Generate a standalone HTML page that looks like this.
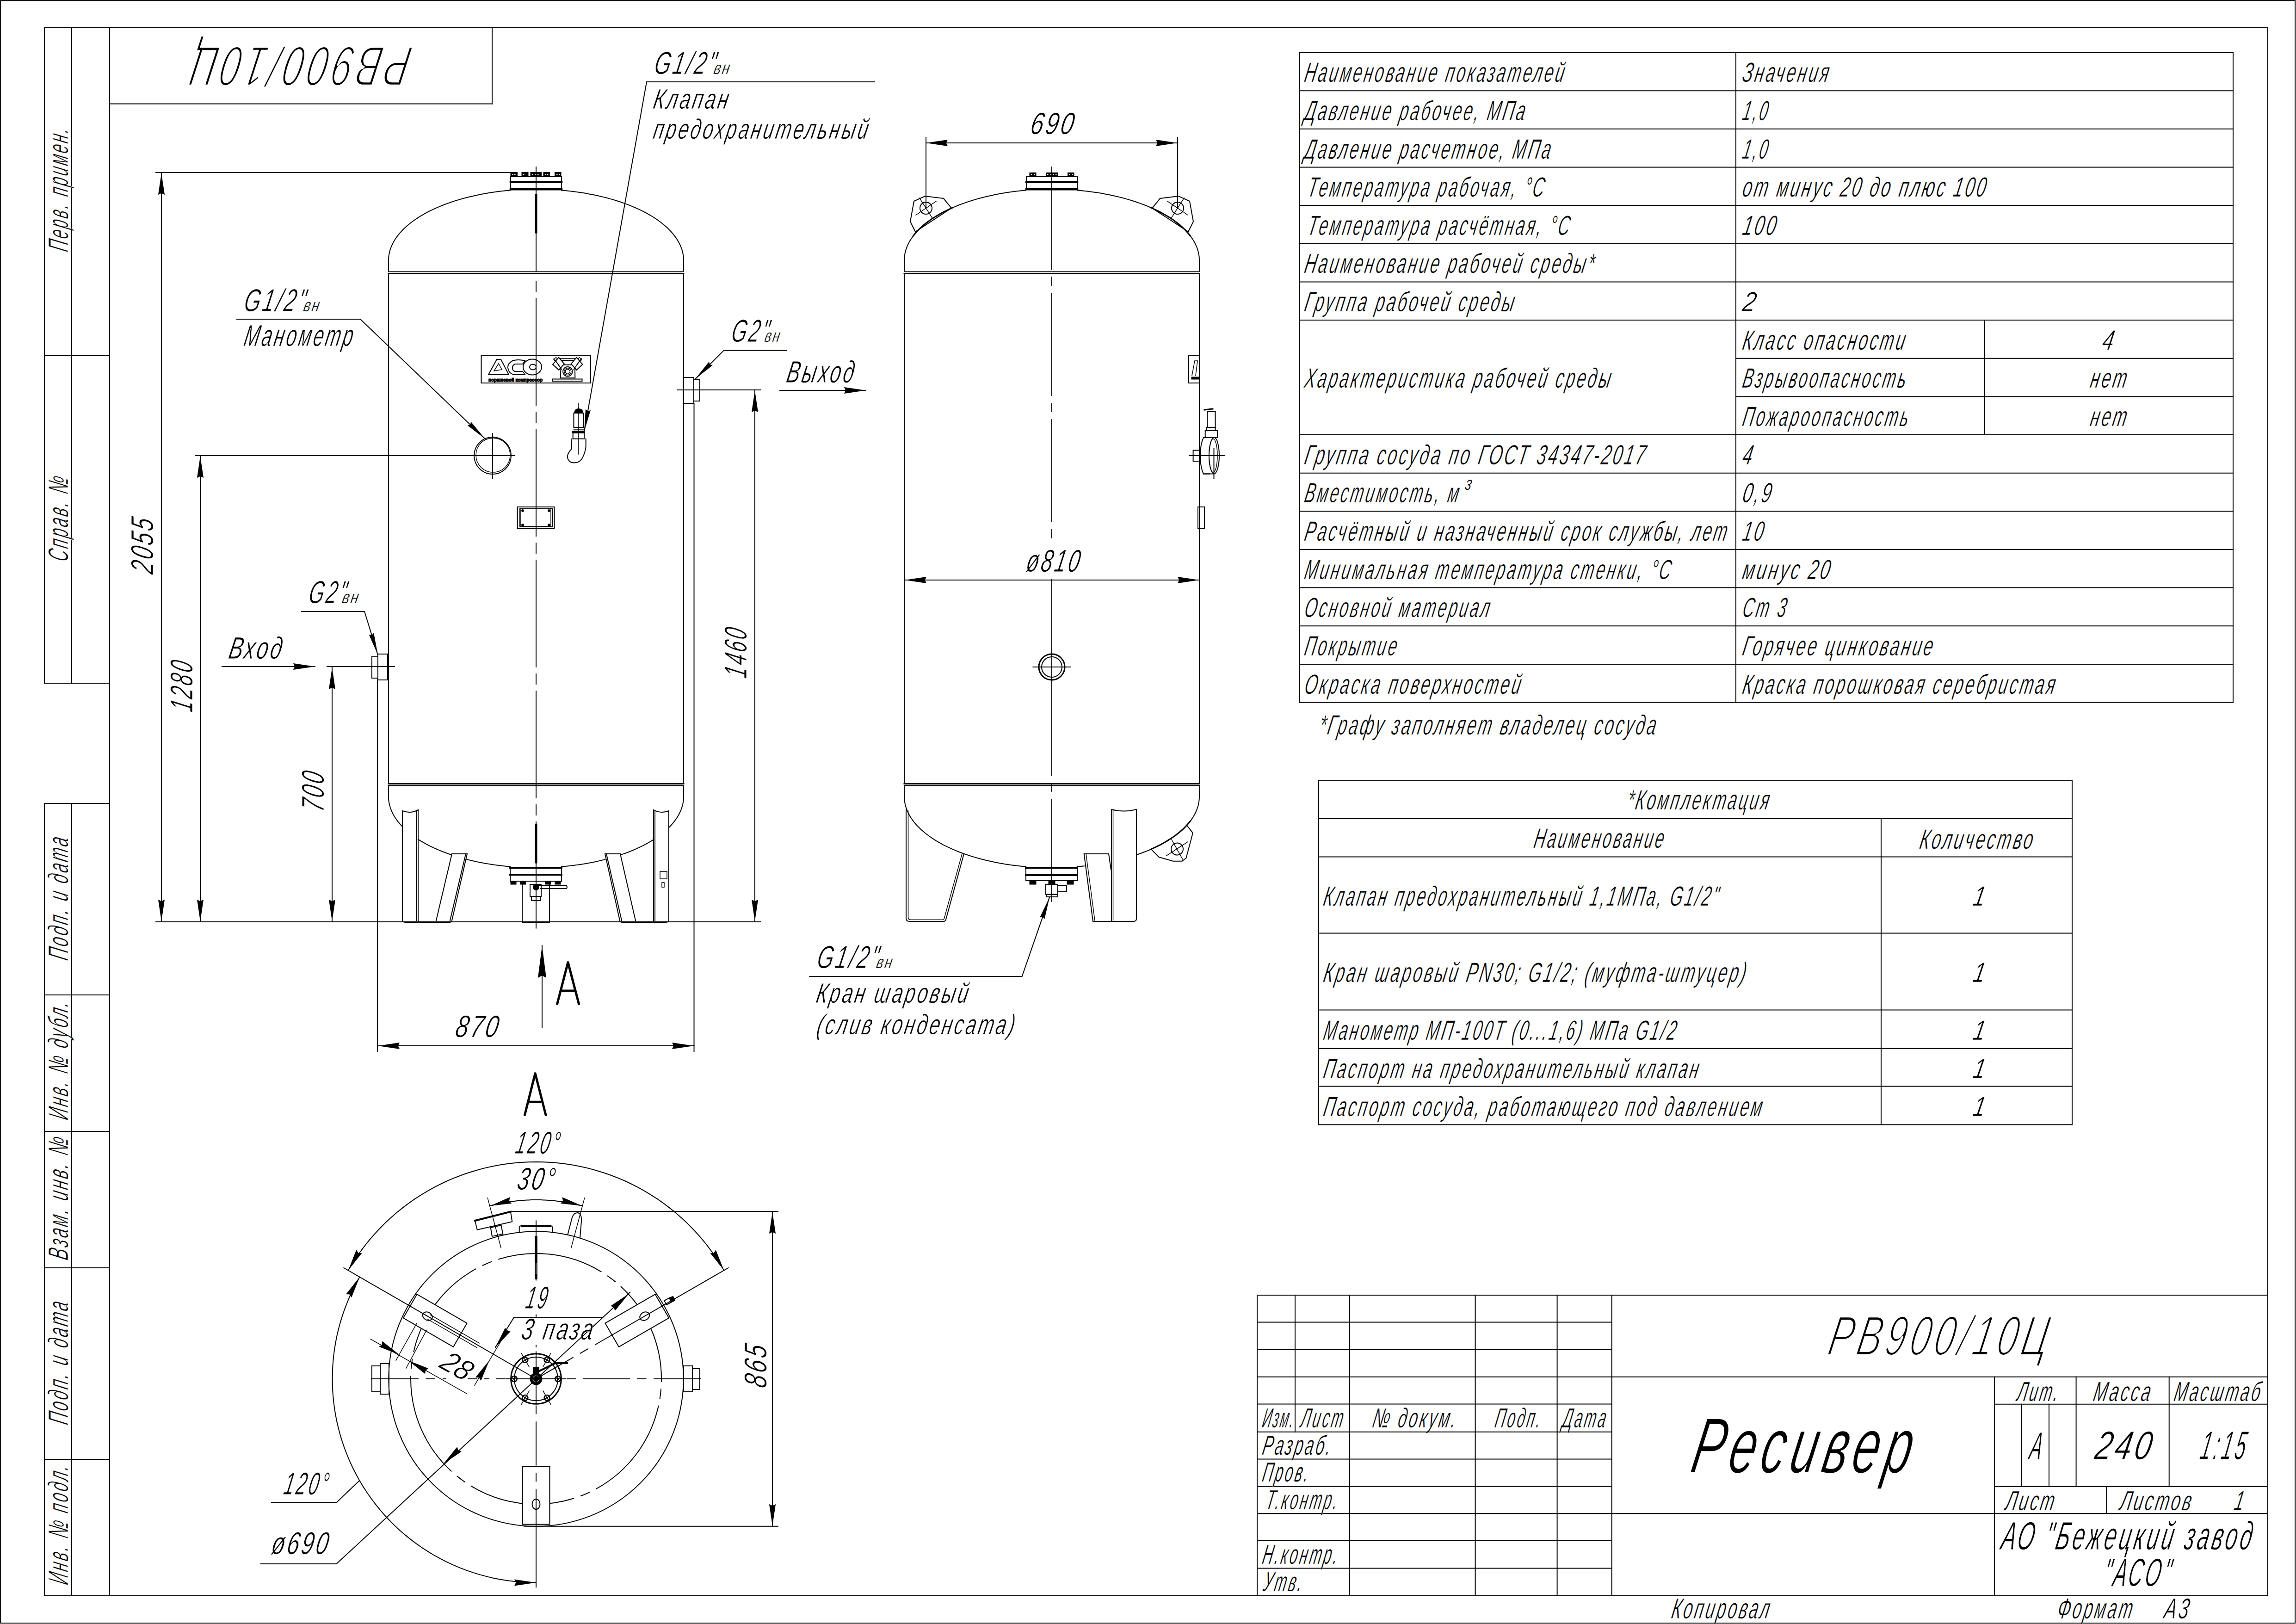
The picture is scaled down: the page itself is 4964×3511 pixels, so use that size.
<!DOCTYPE html>
<html><head><meta charset="utf-8"><title>PB900/10C</title>
<style>
html,body{margin:0;padding:0;background:#fff;overflow:hidden;}
svg{display:block;}
.t{font-family:"Liberation Sans",sans-serif;font-style:italic;fill:#000;stroke:#fff;}
</style></head><body>
<svg xmlns="http://www.w3.org/2000/svg" width="4964" height="3511" viewBox="0 0 4964 3511" stroke-linecap="square">
<rect x="0" y="0" width="4964" height="3511" fill="#fff"/>
<g stroke="#000" fill="none">
<rect x="1.2" y="1.2" width="4961" height="3507.9" stroke-width="2" fill="none"/>
<line x1="96" y1="60" x2="4903" y2="60" stroke-width="2"/>
<line x1="4903" y1="60" x2="4903" y2="3450" stroke-width="2"/>
<line x1="96" y1="3450" x2="4903" y2="3450" stroke-width="2"/>
<line x1="237" y1="60" x2="237" y2="3450" stroke-width="2"/>
<line x1="96" y1="60" x2="96" y2="1477" stroke-width="2"/>
<line x1="96" y1="1737" x2="96" y2="3450" stroke-width="2"/>
<line x1="155" y1="60" x2="155" y2="1477" stroke-width="2"/>
<line x1="155" y1="1737" x2="155" y2="3450" stroke-width="2"/>
<line x1="96" y1="769" x2="237" y2="769" stroke-width="2"/>
<line x1="96" y1="1477" x2="237" y2="1477" stroke-width="2"/>
<line x1="96" y1="1737" x2="237" y2="1737" stroke-width="2"/>
<line x1="96" y1="2151" x2="237" y2="2151" stroke-width="2"/>
<line x1="96" y1="2446" x2="237" y2="2446" stroke-width="2"/>
<line x1="96" y1="2741" x2="237" y2="2741" stroke-width="2"/>
<line x1="96" y1="3155" x2="237" y2="3155" stroke-width="2"/>
<line x1="1064" y1="60" x2="1064" y2="224.5" stroke-width="2"/>
<line x1="237" y1="224.5" x2="1064" y2="224.5" stroke-width="2"/>
</g>
<text class="t" transform="translate(147 546) rotate(-90) skewX(-11) scale(0.531 1)" x="0" y="0" font-size="61" stroke-width="0.8" textLength="500.6" lengthAdjust="spacing">Перв. примен.</text>
<text class="t" transform="translate(147 1216) rotate(-90) skewX(-11) scale(0.554 1)" x="0" y="0" font-size="61" stroke-width="0.8" textLength="330.6" lengthAdjust="spacing">Справ. №</text>
<text class="t" transform="translate(147 2078) rotate(-90) skewX(-11) scale(0.573 1)" x="0" y="0" font-size="61" stroke-width="0.8" textLength="462.9" lengthAdjust="spacing">Подп. и дата</text>
<text class="t" transform="translate(147 2423) rotate(-90) skewX(-11) scale(0.554 1)" x="0" y="0" font-size="61" stroke-width="0.8" textLength="458.9" lengthAdjust="spacing">Инв. № дубл.</text>
<text class="t" transform="translate(147 2726) rotate(-90) skewX(-11) scale(0.579 1)" x="0" y="0" font-size="61" stroke-width="0.8" textLength="457.3" lengthAdjust="spacing">Взам. инв. №</text>
<text class="t" transform="translate(147 3082) rotate(-90) skewX(-11) scale(0.573 1)" x="0" y="0" font-size="61" stroke-width="0.8" textLength="462.9" lengthAdjust="spacing">Подп. и дата</text>
<text class="t" transform="translate(147 3428) rotate(-90) skewX(-11) scale(0.557 1)" x="0" y="0" font-size="61" stroke-width="0.8" textLength="461.8" lengthAdjust="spacing">Инв. № подл.</text>
<g stroke="#000" fill="none">
<line x1="840" y1="592" x2="840" y2="1694" stroke-width="2"/>
<line x1="1478" y1="592" x2="1478" y2="1694" stroke-width="2"/>
<polyline points="840,587 840,563 840.1,559.4 840.3,555.8 840.8,552.3 841.4,548.7 842.2,545.1 843.1,541.6 844.2,538.1 845.5,534.5 847,531 848.6,527.5 850.4,524.1 852.3,520.6 854.4,517.2 856.7,513.8 859.2,510.4 861.8,507 864.6,503.7 867.5,500.4 870.6,497.2 873.8,494 877.2,490.8 880.8,487.7 884.5,484.6 888.3,481.5 892.3,478.5 896.5,475.5 900.8,472.6 905.2,469.7 909.7,466.9 914.4,464.1 919.3,461.4 924.2,458.7 929.3,456.1 934.5,453.6 939.8,451.1 945.3,448.7 950.8,446.3 956.5,444 962.3,441.8 968.2,439.6 974.2,437.5 980.3,435.4 986.4,433.5 992.7,431.6 999.1,429.7 1005.6,428 1012.1,426.3 1018.7,424.7 1025.4,423.2 1032.2,421.7 1039,420.3 1045.9,419 1052.9,417.8 1059.9,416.6 1067,415.5 1074.1,414.6 1081.3,413.6 1088.5,412.8 1095.7,412.1 1103,411.4" stroke-width="2" fill="none"/>
<polyline points="1214,411.3 1221.3,412 1228.6,412.7 1235.8,413.5 1243,414.4 1250.1,415.4 1257.2,416.5 1264.3,417.6 1271.3,418.9 1278.2,420.2 1285,421.5 1291.8,423 1298.6,424.5 1305.2,426.1 1311.8,427.8 1318.2,429.6 1324.6,431.4 1330.9,433.3 1337.2,435.3 1343.3,437.3 1349.3,439.4 1355.2,441.6 1361,443.8 1366.7,446.1 1372.3,448.5 1377.7,450.9 1383.1,453.4 1388.3,455.9 1393.4,458.6 1398.4,461.2 1403.2,463.9 1408,466.7 1412.5,469.5 1417,472.4 1421.3,475.3 1425.4,478.3 1429.4,481.3 1433.3,484.4 1437,487.5 1440.6,490.6 1444,493.8 1447.3,497.1 1450.4,500.3 1453.3,503.6 1456.1,506.9 1458.7,510.3 1461.2,513.7 1463.5,517.1 1465.6,520.5 1467.6,524 1469.4,527.5 1471,531 1472.5,534.5 1473.8,538 1474.9,541.5 1475.8,545.1 1476.6,548.7 1477.2,552.2 1477.7,555.8 1477.9,559.4 1478,563 1478,587" stroke-width="2" fill="none"/>
<line x1="840" y1="587.5" x2="1478" y2="587.5" stroke-width="2"/>
<line x1="840" y1="591.5" x2="1478" y2="591.5" stroke-width="3"/>
<rect x="1104" y="381.5" width="110" height="27.5" stroke-width="2" fill="none"/>
<line x1="1104" y1="393.5" x2="1214" y2="393.5" stroke-width="4.5"/>
<line x1="1104" y1="409.3" x2="1214" y2="409.3" stroke-width="4.5"/>
<line x1="840" y1="1694.5" x2="1478" y2="1694.5" stroke-width="3"/>
<line x1="840" y1="1698.5" x2="1478" y2="1698.5" stroke-width="2"/>
</g>
<g stroke="#000" fill="none">
<polyline points="840,1699 840,1722 840,1723.1 840,1724.2 840.1,1725.4 840.1,1726.5 840.2,1727.6 840.3,1728.7 840.4,1729.9 840.5,1731 840.7,1732.1 840.8,1733.2 841,1734.3 841.2,1735.4 841.4,1736.6 841.7,1737.7 841.9,1738.8 842.2,1739.9 842.4,1741 842.7,1742.1 843.1,1743.3 843.4,1744.4 843.7,1745.5 844.1,1746.6 844.5,1747.7 844.9,1748.8 845.3,1749.9 845.7,1751 846.2,1752.1 846.6,1753.2 847.1,1754.3 847.6,1755.4 848.1,1756.5 848.6,1757.6 849.2,1758.7 849.7,1759.8 850.3,1760.8 850.9,1761.9 851.5,1763 852.1,1764.1 852.8,1765.2 853.5,1766.2 854.1,1767.3 854.8,1768.4 855.5,1769.5 856.3,1770.5 857,1771.6 857.7,1772.7 858.5,1773.7 859.3,1774.8 860.1,1775.8 860.9,1776.9 861.8,1777.9 862.6,1779 863.5,1780 864.4,1781 865.3,1782.1 866.2,1783.1 867.1,1784.1 868.1,1785.2 869,1786.2 870,1787.2" stroke-width="2" fill="none"/>
<polyline points="904,1814.5 905,1815.2 906,1815.8 907.1,1816.5 908.1,1817.1 909.1,1817.7 910.2,1818.4 911.2,1819 912.3,1819.6 913.3,1820.2 914.4,1820.9 915.5,1821.5 916.6,1822.1 917.7,1822.7 918.8,1823.3 919.9,1823.9 921,1824.5 922.1,1825.1 923.2,1825.7 924.4,1826.3 925.5,1826.9 926.7,1827.5 927.8,1828.1 929,1828.7 930.1,1829.3 931.3,1829.9 932.5,1830.4 933.7,1831 934.9,1831.6 936,1832.1 937.3,1832.7 938.5,1833.3 939.7,1833.8 940.9,1834.4 942.1,1834.9 943.4,1835.5 944.6,1836 945.8,1836.6 947.1,1837.1 948.3,1837.6 949.6,1838.2 950.9,1838.7 952.1,1839.2 953.4,1839.8 954.7,1840.3 956,1840.8 957.3,1841.3 958.6,1841.8 959.9,1842.3 961.2,1842.8 962.5,1843.3 963.9,1843.8 965.2,1844.3 966.5,1844.8 967.9,1845.3 969.2,1845.8 970.5,1846.3 971.9,1846.7 973.3,1847.2 974.6,1847.7 976,1848.1" stroke-width="2" fill="none"/>
<polyline points="1009,1857.9 1010.5,1858.3 1011.9,1858.7 1013.4,1859 1014.9,1859.4 1016.4,1859.8 1017.9,1860.1 1019.4,1860.5 1020.9,1860.8 1022.4,1861.2 1023.9,1861.5 1025.4,1861.8 1026.9,1862.2 1028.4,1862.5 1029.9,1862.8 1031.5,1863.2 1033,1863.5 1034.5,1863.8 1036.1,1864.1 1037.6,1864.4 1039.1,1864.7 1040.7,1865 1042.2,1865.3 1043.8,1865.6 1045.3,1865.9 1046.9,1866.2 1048.5,1866.5 1050,1866.7 1051.6,1867 1053.2,1867.3 1054.7,1867.5 1056.3,1867.8 1057.9,1868.1 1059.5,1868.3 1061,1868.6 1062.6,1868.8 1064.2,1869 1065.8,1869.3 1067.4,1869.5 1069,1869.7 1070.6,1870 1072.2,1870.2 1073.8,1870.4 1075.4,1870.6 1077,1870.8 1078.6,1871 1080.2,1871.2 1081.8,1871.4 1083.5,1871.6 1085.1,1871.8 1086.7,1872 1088.3,1872.2 1089.9,1872.3 1091.6,1872.5 1093.2,1872.7 1094.8,1872.9 1096.5,1873 1098.1,1873.2 1099.7,1873.3 1101.4,1873.5 1103,1873.6" stroke-width="2" fill="none"/>
<polyline points="1214,1873.7 1215.6,1873.6 1217.3,1873.4 1218.9,1873.3 1220.5,1873.1 1222.2,1873 1223.8,1872.8 1225.4,1872.6 1227,1872.5 1228.7,1872.3 1230.3,1872.1 1231.9,1871.9 1233.5,1871.7 1235.1,1871.5 1236.8,1871.4 1238.4,1871.2 1240,1871 1241.6,1870.7 1243.2,1870.5 1244.8,1870.3 1246.4,1870.1 1248,1869.9 1249.6,1869.7 1251.2,1869.4 1252.8,1869.2 1254.4,1869 1255.9,1868.7 1257.5,1868.5 1259.1,1868.2 1260.7,1868 1262.3,1867.7 1263.8,1867.4 1265.4,1867.2 1267,1866.9 1268.5,1866.6 1270.1,1866.4 1271.6,1866.1 1273.2,1865.8 1274.8,1865.5 1276.3,1865.2 1277.8,1864.9 1279.4,1864.6 1280.9,1864.3 1282.5,1864 1284,1863.7 1285.5,1863.4 1287,1863.1 1288.6,1862.7 1290.1,1862.4 1291.6,1862.1 1293.1,1861.7 1294.6,1861.4 1296.1,1861 1297.6,1860.7 1299.1,1860.4 1300.6,1860 1302.1,1859.6 1303.6,1859.3 1305.1,1858.9 1306.5,1858.5 1308,1858.2" stroke-width="2" fill="none"/>
<polyline points="1341,1848.5 1342.4,1848 1343.7,1847.6 1345.1,1847.1 1346.4,1846.6 1347.8,1846.1 1349.1,1845.7 1350.5,1845.2 1351.8,1844.7 1353.1,1844.2 1354.5,1843.7 1355.8,1843.2 1357.1,1842.7 1358.4,1842.2 1359.7,1841.7 1361,1841.2 1362.3,1840.7 1363.6,1840.2 1364.8,1839.7 1366.1,1839.1 1367.4,1838.6 1368.6,1838.1 1369.9,1837.5 1371.1,1837 1372.4,1836.5 1373.6,1835.9 1374.8,1835.4 1376.1,1834.8 1377.3,1834.3 1378.5,1833.7 1379.7,1833.2 1380.9,1832.6 1382.1,1832.1 1383.3,1831.5 1384.5,1830.9 1385.7,1830.4 1386.8,1829.8 1388,1829.2 1389.2,1828.6 1390.3,1828.1 1391.5,1827.5 1392.6,1826.9 1393.7,1826.3 1394.9,1825.7 1396,1825.1 1397.1,1824.5 1398.2,1823.9 1399.3,1823.3 1400.4,1822.7 1401.5,1822.1 1402.6,1821.5 1403.6,1820.8 1404.7,1820.2 1405.8,1819.6 1406.8,1819 1407.9,1818.3 1408.9,1817.7 1409.9,1817.1 1411,1816.4 1412,1815.8 1413,1815.2" stroke-width="2" fill="none"/>
<polyline points="1446,1789.2 1447,1788.2 1448.1,1787.1 1449.1,1786.1 1450.1,1785 1451,1784 1452,1782.9 1452.9,1781.8 1453.9,1780.8 1454.8,1779.7 1455.7,1778.6 1456.5,1777.5 1457.4,1776.5 1458.2,1775.4 1459.1,1774.3 1459.9,1773.2 1460.7,1772.1 1461.4,1771 1462.2,1769.9 1462.9,1768.8 1463.6,1767.7 1464.3,1766.6 1465,1765.5 1465.7,1764.3 1466.4,1763.2 1467,1762.1 1467.6,1761 1468.2,1759.9 1468.8,1758.7 1469.4,1757.6 1469.9,1756.5 1470.4,1755.4 1470.9,1754.2 1471.4,1753.1 1471.9,1752 1472.4,1750.8 1472.8,1749.7 1473.2,1748.5 1473.6,1747.4 1474,1746.2 1474.4,1745.1 1474.7,1744 1475.1,1742.8 1475.4,1741.7 1475.7,1740.5 1476,1739.4 1476.2,1738.2 1476.5,1737 1476.7,1735.9 1476.9,1734.7 1477.1,1733.6 1477.3,1732.4 1477.4,1731.3 1477.6,1730.1 1477.7,1729 1477.8,1727.8 1477.9,1726.6 1477.9,1725.5 1478,1724.3 1478,1723.2 1478,1722 1478,1699" stroke-width="2" fill="none"/>
</g>
<g stroke="#000" fill="none">
<rect x="1103" y="1875" width="111" height="30" stroke-width="2" fill="none"/>
<line x1="1103" y1="1876" x2="1214" y2="1876" stroke-width="4"/>
<line x1="1103" y1="1891" x2="1214" y2="1891" stroke-width="4"/>
<rect x="1104" y="1905" width="12" height="7" stroke-width="1" fill="#000"/>
<rect x="1125" y="1905" width="12" height="7" stroke-width="1" fill="#000"/>
<rect x="1179" y="1905" width="12" height="7" stroke-width="1" fill="#000"/>
<rect x="1200" y="1905" width="12" height="7" stroke-width="1" fill="#000"/>
<rect x="1129" y="1905" width="59" height="89" stroke-width="2" fill="none"/>
<rect x="1146" y="1912" width="24" height="26" stroke-width="2" fill="none"/>
<rect x="1149" y="1938" width="19" height="9" stroke-width="2" fill="none"/>
<circle cx="1159" cy="1918" r="6" stroke-width="2" fill="#000"/>
<polyline points="1165,1914 1225,1914 1226,1918 1225,1921 1168,1921" stroke-width="2" fill="none"/>
<path d="M870,1753 Q887,1760 904,1751 L904,1990 Q904,1994 908,1994 L972,1994 Q976,1994 977,1990 L1010,1846 L977,1846 L943,1990" stroke-width="2" fill="none"/>
<line x1="901" y1="1752" x2="901" y2="1990" stroke-width="2"/>
<line x1="1007" y1="1846" x2="973" y2="1990" stroke-width="2"/>
<path d="M870,1753 L870,1988 Q870,1994 876,1994 L904,1994" stroke-width="2" fill="none"/>
<path d="M1446,1753 Q1429,1760 1413,1751 L1413,1990 Q1413,1994 1409,1994 L1345,1994 Q1341,1994 1340,1990 L1308,1846 L1341,1846 L1374,1990" stroke-width="2" fill="none"/>
<line x1="1416" y1="1752" x2="1416" y2="1990" stroke-width="2"/>
<line x1="1311" y1="1846" x2="1344" y2="1990" stroke-width="2"/>
<path d="M1446,1753 L1446,1988 Q1446,1994 1440,1994 L1413,1994" stroke-width="2" fill="none"/>
<rect x="1427" y="1884" width="15" height="16" stroke-width="1.5" fill="none"/>
<rect x="1431" y="1908" width="5" height="10" stroke-width="1.5" fill="none"/>
</g>
<g stroke="#000" fill="none">
<rect x="1104" y="372.5" width="14.5" height="9.5" stroke-width="1" fill="#000"/>
<rect x="1128" y="372.5" width="14" height="9.5" stroke-width="1" fill="#000"/>
<rect x="1147" y="372.5" width="23.6" height="9.5" stroke-width="1" fill="#000"/>
<rect x="1175" y="372.5" width="13.5" height="9.5" stroke-width="1" fill="#000"/>
<rect x="1199.5" y="372.5" width="13.5" height="9.5" stroke-width="1" fill="#000"/>
<rect x="1107" y="376" width="2.5" height="2" stroke-width="0.1" fill="#fff"/>
<rect x="1112" y="376" width="2.5" height="2" stroke-width="0.1" fill="#fff"/>
<rect x="1131" y="376" width="2.5" height="2" stroke-width="0.1" fill="#fff"/>
<rect x="1150" y="376" width="2.5" height="2" stroke-width="0.1" fill="#fff"/>
<rect x="1156" y="376" width="2.5" height="2" stroke-width="0.1" fill="#fff"/>
<rect x="1162" y="376" width="2.5" height="2" stroke-width="0.1" fill="#fff"/>
<rect x="1178" y="376" width="2.5" height="2" stroke-width="0.1" fill="#fff"/>
<rect x="1183" y="376" width="2.5" height="2" stroke-width="0.1" fill="#fff"/>
<rect x="1203" y="376" width="2.5" height="2" stroke-width="0.1" fill="#fff"/>
<rect x="1208" y="376" width="2.5" height="2" stroke-width="0.1" fill="#fff"/>
<rect x="1040.5" y="768" width="236.5" height="60" stroke-width="2" fill="none"/>
<polygon points="1056,810 1074,777 1083,777 1100,810" stroke-width="2" fill="none"/>
<polygon points="1068,802 1078,786 1085,799" stroke-width="1.5" fill="none"/>
<path d="M1135,780 Q1120,776 1108,780 Q1097,786 1098,795 Q1099,806 1110,810 L1135,810 L1130,803 L1113,803 Q1107,800 1108,795 Q1108,789 1114,787 L1130,787 Z" stroke-width="2" fill="none"/>
<ellipse cx="1151" cy="793.5" rx="20" ry="17" stroke-width="2" fill="none"/>
<ellipse cx="1152" cy="793.5" rx="7" ry="6" stroke-width="2" fill="none"/>
<text x="1056" y="824.5" font-family="Liberation Sans" font-weight="bold" font-size="10" textLength="117" lengthAdjust="spacingAndGlyphs" fill="#000" stroke="#000" stroke-width="1.2">поршневой компрессор</text>
<polygon points="1212.8,788.8 1242.8,788.8 1243.3,817.2 1211.7,817.2" stroke-width="2" fill="none"/>
<circle cx="1227.3" cy="803.3" r="10.2" stroke-width="2" fill="none"/>
<circle cx="1227.3" cy="803.3" r="7.5" stroke-width="1.5" fill="none"/>
<circle cx="1227.3" cy="803.3" r="5" stroke-width="1.5" fill="none"/>
<rect x="1212" y="775.5" width="31" height="3.5" stroke-width="2" fill="none"/>
<polygon points="1208,772.8 1195,787.8 1208,799.8 1220,786.8" stroke-width="2" fill="#fff"/>
<line x1="1197.5" y1="774.8" x2="1205.9" y2="786.8" stroke-width="1.5"/>
<line x1="1200.3" y1="778.8" x2="1208.7" y2="790.8" stroke-width="1.5"/>
<line x1="1203.1" y1="782.8" x2="1211.5" y2="794.8" stroke-width="1.5"/>
<line x1="1205.9" y1="786.8" x2="1214.3" y2="798.8" stroke-width="1.5"/>
<polygon points="1197,777.8 1202,772.8 1205,775.8 1200,780.8" stroke-width="1.5" fill="none"/>
<polygon points="1246.6,772.8 1259.6,787.8 1246.6,799.8 1234.6,786.8" stroke-width="2" fill="#fff"/>
<line x1="1257.1" y1="774.8" x2="1248.7" y2="786.8" stroke-width="1.5"/>
<line x1="1254.3" y1="778.8" x2="1245.9" y2="790.8" stroke-width="1.5"/>
<line x1="1251.5" y1="782.8" x2="1243.1" y2="794.8" stroke-width="1.5"/>
<line x1="1248.7" y1="786.8" x2="1240.3" y2="798.8" stroke-width="1.5"/>
<polygon points="1257.6,777.8 1252.6,772.8 1249.6,775.8 1254.6,780.8" stroke-width="1.5" fill="none"/>
<rect x="1195" y="819.5" width="63.5" height="4.5" stroke-width="2" fill="none"/>
<circle cx="1065" cy="985" r="40" stroke-width="2" fill="none"/>
<circle cx="1066" cy="984" r="37" stroke-width="1.5" fill="none"/>
<line x1="1065" y1="937" x2="1065" y2="1035" stroke-width="2"/>
<rect x="1118.6" y="1096" width="79.8" height="47" stroke-width="2" fill="none"/>
<rect x="1124" y="1100" width="70.5" height="39" stroke-width="2" fill="none"/>
<rect x="1126" y="1100" width="65" height="38" stroke-width="1.5" fill="none"/>
<circle cx="1130" cy="1104" r="2.5" stroke-width="1" fill="#000"/>
<circle cx="1187" cy="1104" r="2.5" stroke-width="1" fill="#000"/>
<circle cx="1130" cy="1135" r="2.5" stroke-width="1" fill="#000"/>
<circle cx="1187" cy="1135" r="2.5" stroke-width="1" fill="#000"/>
<line x1="1251" y1="872" x2="1251" y2="982" stroke-width="1.5"/>
<path d="M1242,893 Q1243,884 1251,884 Q1260,884 1260,893 Z" stroke-width="2" fill="#000"/>
<rect x="1240.5" y="893" width="21.1" height="31" stroke-width="2" fill="none"/>
<line x1="1240.5" y1="928" x2="1261.6" y2="928" stroke-width="1.5"/>
<line x1="1240.5" y1="932" x2="1261.6" y2="932" stroke-width="1.5"/>
<rect x="1237" y="932" width="27" height="4" stroke-width="1" fill="#000"/>
<rect x="1238.7" y="936" width="24.3" height="12.7" stroke-width="2" fill="none"/>
<path d="M1236.3,948.7 L1235.5,971 Q1226,980 1227,990 Q1230,1001 1242,1000.5 Q1253,1000 1258,992 Q1265,980 1266.7,966 L1266.7,948.7" stroke-width="2" fill="none"/>
<rect x="804" y="1420" width="13" height="46" stroke-width="2" fill="none"/>
<rect x="817" y="1414" width="21" height="56" stroke-width="2" fill="none"/>
<line x1="707" y1="1441" x2="853" y2="1441" stroke-width="2"/>
<rect x="1477" y="816" width="23" height="56" stroke-width="2" fill="none"/>
<rect x="1500" y="821" width="13" height="46" stroke-width="2" fill="none"/>
<line x1="1465" y1="843" x2="1644" y2="843" stroke-width="2"/>
<line x1="816" y1="1470" x2="816" y2="2273" stroke-width="2"/>
<line x1="1500.5" y1="872" x2="1500.5" y2="2273" stroke-width="2"/>
</g>
<g stroke="#000" fill="none">
<line x1="1159" y1="361" x2="1159" y2="587" stroke-width="2"/>
<line x1="1159" y1="422" x2="1159" y2="502" stroke-width="5"/>
<line x1="1159" y1="608" x2="1159" y2="630" stroke-width="2"/>
<line x1="1159" y1="645" x2="1159" y2="876" stroke-width="2"/>
<line x1="1159" y1="891" x2="1159" y2="913" stroke-width="2"/>
<line x1="1159" y1="928" x2="1159" y2="1159" stroke-width="2"/>
<line x1="1159" y1="1174" x2="1159" y2="1196" stroke-width="2"/>
<line x1="1159" y1="1211" x2="1159" y2="1442" stroke-width="2"/>
<line x1="1159" y1="1457" x2="1159" y2="1479" stroke-width="2"/>
<line x1="1159" y1="1494" x2="1159" y2="1725" stroke-width="2"/>
<line x1="1159" y1="1740" x2="1159" y2="1762" stroke-width="2"/>
<line x1="1159" y1="1777" x2="1159" y2="2006.5" stroke-width="2"/>
<line x1="1159" y1="1783.4" x2="1159" y2="1864" stroke-width="5"/>
</g>
<g stroke="#000" fill="none">
<line x1="337" y1="373" x2="1111" y2="373" stroke-width="2"/>
<line x1="422" y1="985" x2="1112" y2="985" stroke-width="2"/>
<line x1="337" y1="1993" x2="1644" y2="1993" stroke-width="2"/>
<line x1="349" y1="373" x2="349" y2="1993" stroke-width="2"/>
<polygon points="349,374 356,421 349,417.7 342,421" fill="#000" stroke="none"/>
<polygon points="349,1992 342,1945 349,1948.3 356,1945" fill="#000" stroke="none"/>
<line x1="433" y1="985" x2="433" y2="1993" stroke-width="2"/>
<polygon points="433,986 440,1033 433,1029.7 426,1033" fill="#000" stroke="none"/>
<polygon points="433,1992 426,1945 433,1948.3 440,1945" fill="#000" stroke="none"/>
<line x1="718" y1="1442" x2="718" y2="1993" stroke-width="2"/>
<polygon points="718,1443 725,1490 718,1486.7 711,1490" fill="#000" stroke="none"/>
<polygon points="718,1992 711,1945 718,1948.3 725,1945" fill="#000" stroke="none"/>
<line x1="1632" y1="843" x2="1632" y2="1993" stroke-width="2"/>
<polygon points="1632,844 1639,891 1632,887.7 1625,891" fill="#000" stroke="none"/>
<polygon points="1632,1992 1625,1945 1632,1948.3 1639,1945" fill="#000" stroke="none"/>
<line x1="816" y1="2261" x2="1500.5" y2="2261" stroke-width="2"/>
<polygon points="817,2261 864,2254 860.7,2261 864,2268" fill="#000" stroke="none"/>
<polygon points="1500,2261 1453,2268 1456.3,2261 1453,2254" fill="#000" stroke="none"/>
<line x1="1172" y1="2044" x2="1172" y2="2222" stroke-width="2"/>
<polygon points="1172,2044 1181,2114 1172,2109.1 1163,2114" fill="#000" stroke="none"/>
<polyline points="512,690 779,690 1049,949" stroke-width="2" fill="none"/>
<polygon points="1049,949 1010.6,919.7 1016.8,918.1 1018.2,911.8" fill="#000" stroke="none"/>
<polyline points="1891,177 1398,177 1263,933" stroke-width="2" fill="none"/>
<polygon points="1263,933 1266,884.8 1270.8,889.1 1276.9,886.7" fill="#000" stroke="none"/>
<polyline points="652,1322 788,1322 817,1416" stroke-width="2" fill="none"/>
<polygon points="817,1416 797.6,1371.8 803.8,1373.3 808.1,1368.5" fill="#000" stroke="none"/>
<polyline points="1700.6,757.5 1565,757.5 1503,819.6" stroke-width="2" fill="none"/>
<polygon points="1503,819.6 1533,781.7 1534.5,788 1540.8,789.5" fill="#000" stroke="none"/>
<line x1="480" y1="1441" x2="681" y2="1441" stroke-width="2"/>
<polygon points="681,1441 634,1448 637.3,1441 634,1434" fill="#000" stroke="none"/>
<line x1="1686" y1="844" x2="1872" y2="844" stroke-width="2"/>
<polygon points="1872,844 1825,851 1828.3,844 1825,837" fill="#000" stroke="none"/>
</g>
<text class="t" transform="translate(525 673) skewX(-11) scale(0.649 1)" x="0" y="0" font-size="69" stroke-width="0.9" textLength="203.5" lengthAdjust="spacing">G1/2"</text>
<text class="t" transform="translate(654.5 673) skewX(-11) scale(0.755 1)" x="0" y="0" font-size="38.7" stroke-width="0.6" textLength="45" lengthAdjust="spacing">вн</text>
<text class="t" transform="translate(525 748) skewX(-11) scale(0.608 1)" x="0" y="0" font-size="65.4" stroke-width="0.8" textLength="386.3" lengthAdjust="spacing">Манометр</text>
<text class="t" transform="translate(1412 159.7) skewX(-11) scale(0.649 1)" x="0" y="0" font-size="69" stroke-width="0.9" textLength="203.5" lengthAdjust="spacing">G1/2"</text>
<text class="t" transform="translate(1541.5 159.7) skewX(-11) scale(0.755 1)" x="0" y="0" font-size="38.7" stroke-width="0.6" textLength="45" lengthAdjust="spacing">вн</text>
<text class="t" transform="translate(1410 235) skewX(-11) scale(0.688 1)" x="0" y="0" font-size="61" stroke-width="0.8" textLength="235.3" lengthAdjust="spacing">Клапан</text>
<text class="t" transform="translate(1410 300) skewX(-11) scale(0.667 1)" x="0" y="0" font-size="61" stroke-width="0.8" textLength="695.6" lengthAdjust="spacing">предохранительный</text>
<text class="t" transform="translate(665 1304) skewX(-11) scale(0.605 1)" x="0" y="0" font-size="69" stroke-width="0.9" textLength="132.3" lengthAdjust="spacing">G2"</text>
<text class="t" transform="translate(738 1304) skewX(-11) scale(0.779 1)" x="0" y="0" font-size="38.7" stroke-width="0.6" textLength="44.9" lengthAdjust="spacing">вн</text>
<text class="t" transform="translate(492 1424) skewX(-11) scale(0.672 1)" x="0" y="0" font-size="66.9" stroke-width="0.8" textLength="169.8" lengthAdjust="spacing">Вход</text>
<text class="t" transform="translate(1578.7 739) skewX(-11) scale(0.605 1)" x="0" y="0" font-size="69" stroke-width="0.9" textLength="132.3" lengthAdjust="spacing">G2"</text>
<text class="t" transform="translate(1651.6 739) skewX(-11) scale(0.719 1)" x="0" y="0" font-size="38.7" stroke-width="0.6" textLength="45.2" lengthAdjust="spacing">вн</text>
<text class="t" transform="translate(1698 826.8) skewX(-11) scale(0.631 1)" x="0" y="0" font-size="66.9" stroke-width="0.8" textLength="229.8" lengthAdjust="spacing">Выход</text>
<text class="t" transform="translate(331 1243) rotate(-90) skewX(-11) scale(0.690 1)" x="0" y="0" font-size="68.3" stroke-width="0.8" textLength="172.4" lengthAdjust="spacing">2055</text>
<text class="t" transform="translate(416 1541) rotate(-90) skewX(-11) scale(0.618 1)" x="0" y="0" font-size="68.3" stroke-width="0.8" textLength="174.8" lengthAdjust="spacing">1280</text>
<text class="t" transform="translate(700 1757) rotate(-90) skewX(-11) scale(0.663 1)" x="0" y="0" font-size="68.3" stroke-width="0.8" textLength="128.1" lengthAdjust="spacing">700</text>
<text class="t" transform="translate(1613.5 1468) rotate(-90) skewX(-11) scale(0.605 1)" x="0" y="0" font-size="68.3" stroke-width="0.8" textLength="175.3" lengthAdjust="spacing">1460</text>
<text class="t" transform="translate(982 2242) skewX(-11) scale(0.742 1)" x="0" y="0" font-size="66.9" stroke-width="0.8" textLength="123.9" lengthAdjust="spacing">870</text>
<g stroke="#000" fill="none" stroke-linecap="round" stroke-linejoin="round">
<path d="M1204.7,2170.4 L1228,2080.5 L1251.5,2170.4 M1215.8,2142 L1241.6,2142" stroke-width="5" fill="none"/>
<path d="M1134.5,2410.5 L1157.1,2320.6 L1180,2410.5 M1144.3,2382.2 L1170.2,2382.2" stroke-width="5" fill="none"/>
</g>
<g stroke="#000" fill="none">
<line x1="1955" y1="592" x2="1955" y2="1694" stroke-width="2"/>
<line x1="2593" y1="592" x2="2593" y2="1694" stroke-width="2"/>
<polyline points="1955,587 1955,563 1955.1,559.4 1955.3,555.8 1955.8,552.3 1956.4,548.7 1957.2,545.1 1958.1,541.6 1959.2,538.1 1960.5,534.5 1962,531 1963.6,527.5 1965.4,524.1 1967.3,520.6 1969.4,517.2 1971.7,513.8 1974.2,510.4 1976.8,507 1979.6,503.7 1982.5,500.4 1985.6,497.2 1988.8,494 1992.2,490.8 1995.8,487.7 1999.5,484.6 2003.3,481.5 2007.3,478.5 2011.5,475.5 2015.8,472.6 2020.2,469.7 2024.7,466.9 2029.4,464.1 2034.3,461.4 2039.2,458.7 2044.3,456.1 2049.5,453.6 2054.8,451.1 2060.3,448.7 2065.8,446.3 2071.5,444 2077.3,441.8 2083.2,439.6 2089.2,437.5 2095.3,435.4 2101.4,433.5 2107.7,431.6 2114.1,429.7 2120.6,428 2127.1,426.3 2133.7,424.7 2140.4,423.2 2147.2,421.7 2154,420.3 2160.9,419 2167.9,417.8 2174.9,416.6 2182,415.5 2189.1,414.6 2196.3,413.6 2203.5,412.8 2210.7,412.1 2218,411.4" stroke-width="2" fill="none"/>
<polyline points="2329,411.3 2336.3,412 2343.6,412.7 2350.8,413.5 2358,414.4 2365.1,415.4 2372.2,416.5 2379.3,417.6 2386.3,418.9 2393.2,420.2 2400,421.5 2406.8,423 2413.6,424.5 2420.2,426.1 2426.8,427.8 2433.2,429.6 2439.6,431.4 2445.9,433.3 2452.2,435.3 2458.3,437.3 2464.3,439.4 2470.2,441.6 2476,443.8 2481.7,446.1 2487.3,448.5 2492.7,450.9 2498.1,453.4 2503.3,455.9 2508.4,458.6 2513.4,461.2 2518.2,463.9 2523,466.7 2527.5,469.5 2532,472.4 2536.3,475.3 2540.4,478.3 2544.4,481.3 2548.3,484.4 2552,487.5 2555.6,490.6 2559,493.8 2562.3,497.1 2565.4,500.3 2568.3,503.6 2571.1,506.9 2573.7,510.3 2576.2,513.7 2578.5,517.1 2580.6,520.5 2582.6,524 2584.4,527.5 2586,531 2587.5,534.5 2588.8,538 2589.9,541.5 2590.8,545.1 2591.6,548.7 2592.2,552.2 2592.7,555.8 2592.9,559.4 2593,563 2593,587" stroke-width="2" fill="none"/>
<line x1="1955" y1="587.5" x2="2593" y2="587.5" stroke-width="2"/>
<line x1="1955" y1="591.5" x2="2593" y2="591.5" stroke-width="3"/>
<rect x="2219" y="381.5" width="110" height="27.5" stroke-width="2" fill="none"/>
<line x1="2219" y1="393.5" x2="2329" y2="393.5" stroke-width="4.5"/>
<line x1="2219" y1="409.3" x2="2329" y2="409.3" stroke-width="4.5"/>
<line x1="1955" y1="1694.5" x2="2593" y2="1694.5" stroke-width="3"/>
<line x1="1955" y1="1698.5" x2="2593" y2="1698.5" stroke-width="2"/>
</g>
<g stroke="#000" fill="none">
<polyline points="1955,1699 1955,1722 1955.1,1725.6 1955.3,1729.2 1955.8,1732.7 1956.4,1736.3 1957.2,1739.9 1958.1,1743.4 1959.2,1746.9 1960.5,1750.5 1962,1754 1963.6,1757.5 1965.4,1760.9 1967.3,1764.4 1969.4,1767.8 1971.7,1771.2 1974.2,1774.6 1976.8,1778 1979.6,1781.3 1982.5,1784.6 1985.6,1787.8 1988.8,1791 1992.2,1794.2 1995.8,1797.3 1999.5,1800.4 2003.3,1803.5 2007.3,1806.5 2011.5,1809.5 2015.8,1812.4 2020.2,1815.3 2024.7,1818.1 2029.4,1820.9 2034.3,1823.6 2039.2,1826.3 2044.3,1828.9 2049.5,1831.4 2054.8,1833.9 2060.3,1836.3 2065.8,1838.7 2071.5,1841 2077.3,1843.2 2083.2,1845.4 2089.2,1847.5 2095.3,1849.6 2101.4,1851.5 2107.7,1853.4 2114.1,1855.3 2120.6,1857 2127.1,1858.7 2133.7,1860.3 2140.4,1861.8 2147.2,1863.3 2154,1864.7 2160.9,1866 2167.9,1867.2 2174.9,1868.4 2182,1869.5 2189.1,1870.4 2196.3,1871.4 2203.5,1872.2 2210.7,1872.9 2218,1873.6" stroke-width="2" fill="none"/>
<polyline points="2329,1873.7 2329.3,1873.7 2329.5,1873.7 2329.8,1873.6 2330,1873.6 2330.3,1873.6 2330.5,1873.6 2330.8,1873.5 2331,1873.5 2331.3,1873.5 2331.5,1873.5 2331.8,1873.5 2332,1873.4 2332.3,1873.4 2332.5,1873.4 2332.8,1873.4 2333,1873.3 2333.3,1873.3 2333.5,1873.3 2333.8,1873.3 2334,1873.2 2334.3,1873.2 2334.5,1873.2 2334.8,1873.2 2335,1873.2 2335.3,1873.1 2335.5,1873.1 2335.8,1873.1 2336,1873.1 2336.3,1873 2336.5,1873 2336.8,1873 2337,1873 2337.3,1872.9 2337.5,1872.9 2337.8,1872.9 2338,1872.9 2338.3,1872.8 2338.5,1872.8 2338.8,1872.8 2339,1872.8 2339.3,1872.7 2339.5,1872.7 2339.8,1872.7 2340,1872.7 2340.3,1872.6 2340.5,1872.6 2340.8,1872.6 2341,1872.6 2341.3,1872.5 2341.5,1872.5 2341.8,1872.5 2342,1872.5 2342.3,1872.4 2342.5,1872.4 2342.8,1872.4 2343,1872.4 2343.3,1872.3 2343.5,1872.3 2343.8,1872.3 2344,1872.2" stroke-width="2" fill="none"/>
<polyline points="2457,1848.1 2461.2,1846.7 2465.3,1845.2 2469.3,1843.8 2473.3,1842.2 2477.3,1840.7 2481.2,1839.1 2485.1,1837.5 2488.9,1835.8 2492.6,1834.2 2496.3,1832.5 2499.9,1830.7 2503.5,1829 2507,1827.2 2510.5,1825.4 2513.9,1823.5 2517.2,1821.7 2520.5,1819.8 2523.7,1817.9 2526.8,1815.9 2529.9,1814 2532.9,1812 2535.9,1810 2538.7,1807.9 2541.5,1805.9 2544.3,1803.8 2547,1801.7 2549.6,1799.6 2552.1,1797.4 2554.6,1795.3 2557,1793.1 2559.3,1790.9 2561.5,1788.7 2563.7,1786.5 2565.8,1784.2 2567.8,1782 2569.8,1779.7 2571.7,1777.4 2573.4,1775.1 2575.2,1772.8 2576.8,1770.4 2578.4,1768.1 2579.9,1765.7 2581.3,1763.4 2582.6,1761 2583.9,1758.6 2585,1756.2 2586.1,1753.8 2587.1,1751.4 2588.1,1749 2588.9,1746.5 2589.7,1744.1 2590.4,1741.7 2591,1739.2 2591.5,1736.8 2592,1734.3 2592.3,1731.8 2592.6,1729.4 2592.8,1726.9 2593,1724.5 2593,1722 2593,1699" stroke-width="2" fill="none"/>
</g>
<g stroke="#000" fill="none">
<rect x="2226" y="373.3" width="14" height="8.7" stroke-width="1" fill="#000"/>
<rect x="2261.4" y="373.3" width="25.6" height="8.7" stroke-width="1" fill="#000"/>
<rect x="2308.5" y="373.3" width="13.5" height="8.7" stroke-width="1" fill="#000"/>
<rect x="2229" y="376" width="2.5" height="2" stroke-width="0.1" fill="#fff"/>
<rect x="2235" y="376" width="2.5" height="2" stroke-width="0.1" fill="#fff"/>
<rect x="2264" y="376" width="2.5" height="2" stroke-width="0.1" fill="#fff"/>
<rect x="2271" y="376" width="2.5" height="2" stroke-width="0.1" fill="#fff"/>
<rect x="2276" y="376" width="2.5" height="2" stroke-width="0.1" fill="#fff"/>
<rect x="2282" y="376" width="2.5" height="2" stroke-width="0.1" fill="#fff"/>
<rect x="2311" y="376" width="2.5" height="2" stroke-width="0.1" fill="#fff"/>
<rect x="2317" y="376" width="2.5" height="2" stroke-width="0.1" fill="#fff"/>
<polygon points="1968,479 1976,435 2000,424 2040,429 2057,450 1979,501" stroke-width="2" fill="#fff"/>
<circle cx="2002" cy="450" r="13" stroke-width="2" fill="none"/>
<line x1="1980" y1="465" x2="2024" y2="435" stroke-width="1.5"/>
<line x1="1988" y1="428" x2="2016" y2="472" stroke-width="1.5"/>
<polygon points="2580,479 2572,435 2548,424 2508,429 2491,450 2569,501" stroke-width="2" fill="#fff"/>
<circle cx="2546" cy="450" r="13" stroke-width="2" fill="none"/>
<line x1="2568" y1="465" x2="2524" y2="435" stroke-width="1.5"/>
<line x1="2560" y1="428" x2="2532" y2="472" stroke-width="1.5"/>
<polyline points="1975,509.3 1979.7,503.6 1984.8,498 1990.4,492.5 1996.5,487 2003,481.8 2009.9,476.6 2017.3,471.6 2025.1,466.7 2033.2,462 2041.8,457.4 2050.7,453 2060,448.8" stroke-width="3" fill="none"/>
<polyline points="2488,448.8 2497.3,453 2506.2,457.4 2514.8,462 2522.9,466.7 2530.7,471.6 2538.1,476.6 2545,481.8 2551.5,487 2557.6,492.5 2563.2,498 2568.3,503.6 2573,509.3" stroke-width="3" fill="none"/>
<polyline points="2490.5,1837.8 2505.7,1853 2536,1861.8 2555.8,1861.8 2564.5,1855 2578.9,1800.8 2566.7,1785.5" stroke-width="2" fill="#fff"/>
<circle cx="2545" cy="1835.6" r="13" stroke-width="2" fill="none"/>
<line x1="2522" y1="1850" x2="2568" y2="1820" stroke-width="1.5"/>
<line x1="2533" y1="1815" x2="2557" y2="1858" stroke-width="1.5"/>
<polyline points="2490,1835.3 2499,1831.1 2507.7,1826.8 2516.1,1822.3 2524,1817.6 2531.6,1812.8 2538.8,1807.9 2545.6,1802.8 2551.9,1797.6 2557.9,1792.3 2563.4,1786.8 2568.4,1781.3 2573,1775.7" stroke-width="3" fill="none"/>
<circle cx="2274" cy="1442" r="28" stroke-width="3" fill="none"/>
<circle cx="2274" cy="1442" r="22" stroke-width="2" fill="none"/>
<line x1="2233.5" y1="1442" x2="2314" y2="1442" stroke-width="2"/>
<path d="M2615,946 L2602,946 Q2595,960 2595,985 Q2595,1010 2602,1024.5 L2615,1024.5" stroke-width="2" fill="none"/>
<ellipse cx="2625" cy="985" rx="11" ry="39" stroke-width="2" fill="none"/>
<ellipse cx="2623" cy="985" rx="9" ry="36" stroke-width="1.5" fill="none"/>
<line x1="2602" y1="946" x2="2625" y2="946" stroke-width="2"/>
<line x1="2602" y1="1024.5" x2="2625" y2="1024.5" stroke-width="2"/>
<rect x="2579.6" y="973.5" width="14.4" height="23.5" stroke-width="2" fill="none"/>
<line x1="2571" y1="985" x2="2647" y2="985" stroke-width="2"/>
<line x1="2624.5" y1="970" x2="2624.5" y2="1034.5" stroke-width="2"/>
<rect x="2605.7" y="930.8" width="26.2" height="15.2" stroke-width="2" fill="none"/>
<rect x="2609" y="924.3" width="18.5" height="6.5" stroke-width="2" fill="none"/>
<rect x="2610" y="889.5" width="17.5" height="34.5" stroke-width="2" fill="none"/>
<line x1="2604" y1="886" x2="2622" y2="884" stroke-width="3"/>
<rect x="2570" y="768" width="24" height="60" stroke-width="2" fill="none"/>
<polyline points="2577,812 2583,780 2589,780 2585,812" stroke-width="1.5" fill="none"/>
<rect x="2576" y="815" width="16" height="5" stroke-width="1" fill="#000"/>
<rect x="2590" y="1096" width="14" height="47" stroke-width="2" fill="none"/>
<line x1="2594" y1="1100" x2="2594" y2="1139" stroke-width="1.5"/>
<rect x="2218" y="1875" width="111" height="29" stroke-width="2" fill="none"/>
<line x1="2218" y1="1876" x2="2329" y2="1876" stroke-width="4"/>
<line x1="2218" y1="1892" x2="2329" y2="1892" stroke-width="4"/>
<rect x="2226" y="1904" width="14" height="8" stroke-width="1" fill="#000"/>
<rect x="2267" y="1904" width="14" height="8" stroke-width="1" fill="#000"/>
<rect x="2307" y="1904" width="14" height="8" stroke-width="1" fill="#000"/>
<rect x="2261" y="1911.8" width="26" height="21.8" stroke-width="2" fill="none"/>
<rect x="2262" y="1933.6" width="25" height="5.4" stroke-width="2" fill="none"/>
<rect x="2287" y="1914" width="19" height="14" stroke-width="2" fill="none"/>
<path d="M1959,1751 L1959,1985 Q1959,1992 1966,1992 L2040,1992 Q2044,1992 2045,1988 L2084,1846" stroke-width="2" fill="none"/>
<path d="M1963.5,1753 L1963.5,1983 Q1963.5,1988.5 1969,1988.5 L2038,1988.5 Q2041,1988.5 2041.5,1985 L2080,1846" stroke-width="1.5" fill="none"/>
<path d="M2403,1750 Q2430,1757 2457,1750 L2457,1986 Q2457,1992 2451,1992 L2363,1992 L2343.7,1846 L2397,1846 L2402,1880" stroke-width="2" fill="none"/>
<line x1="2406.5" y1="1752" x2="2406.5" y2="1990" stroke-width="1.5"/>
<line x1="2348" y1="1846" x2="2367" y2="1990" stroke-width="1.5"/>
<line x1="2403" y1="1750" x2="2403" y2="1992" stroke-width="2"/>
</g>
<g stroke="#000" fill="none">
<line x1="2274" y1="361" x2="2274" y2="583" stroke-width="2"/>
<line x1="2274" y1="599" x2="2274" y2="617" stroke-width="2"/>
<line x1="2274" y1="634" x2="2274" y2="855" stroke-width="2"/>
<line x1="2274" y1="872" x2="2274" y2="890" stroke-width="2"/>
<line x1="2274" y1="907" x2="2274" y2="1128" stroke-width="2"/>
<line x1="2274" y1="1145" x2="2274" y2="1163" stroke-width="2"/>
<line x1="2274" y1="1252" x2="2274" y2="1677" stroke-width="2"/>
<line x1="2274" y1="1696" x2="2274" y2="1711" stroke-width="2"/>
<line x1="2274" y1="1729" x2="2274" y2="1949" stroke-width="2"/>
</g>
<g stroke="#000" fill="none">
<line x1="2002" y1="297" x2="2002" y2="450" stroke-width="2"/>
<line x1="2546" y1="297" x2="2546" y2="450" stroke-width="2"/>
<line x1="2002" y1="309" x2="2546" y2="309" stroke-width="2"/>
<polygon points="2002,309 2049,302 2045.7,309 2049,316" fill="#000" stroke="none"/>
<polygon points="2546,309 2499,316 2502.3,309 2499,302" fill="#000" stroke="none"/>
<line x1="1955" y1="1254" x2="2594" y2="1254" stroke-width="2"/>
<polygon points="1956,1254 2003,1247 1999.7,1254 2003,1261" fill="#000" stroke="none"/>
<polygon points="2593,1254 2546,1261 2549.3,1254 2546,1247" fill="#000" stroke="none"/>
<polyline points="1750.4,2111 2209.6,2111 2269,1940" stroke-width="2" fill="none"/>
<polygon points="2269,1940 2258.4,1987.1 2254.4,1982.2 2248.1,1983.5" fill="#000" stroke="none"/>
</g>
<text class="t" transform="translate(2225 290) skewX(-11) scale(0.751 1)" x="0" y="0" font-size="66.9" stroke-width="0.8" textLength="123.8" lengthAdjust="spacing">690</text>
<text class="t" transform="translate(2216 1236) skewX(-11) scale(0.648 1)" x="0" y="0" font-size="68.3" stroke-width="0.8" textLength="177.4" lengthAdjust="spacing">ø810</text>
<text class="t" transform="translate(1763.7 2092.5) skewX(-11) scale(0.649 1)" x="0" y="0" font-size="69" stroke-width="0.9" textLength="203.5" lengthAdjust="spacing">G1/2"</text>
<text class="t" transform="translate(1893 2092.5) skewX(-11) scale(0.755 1)" x="0" y="0" font-size="38.7" stroke-width="0.6" textLength="45" lengthAdjust="spacing">вн</text>
<text class="t" transform="translate(1762.3 2167.5) skewX(-11) scale(0.675 1)" x="0" y="0" font-size="61" stroke-width="0.8" textLength="486.2" lengthAdjust="spacing">Кран шаровый</text>
<text class="t" transform="translate(1763.7 2235.5) skewX(-11) scale(0.673 1)" x="0" y="0" font-size="61" stroke-width="0.8" textLength="634.5" lengthAdjust="spacing">(слив конденсата)</text>
<g stroke="#000" fill="none">
<circle cx="1159" cy="2981" r="318.7" stroke-width="2" fill="none"/>
<circle cx="1159" cy="2981" r="271" stroke-width="2" fill="none" stroke-dasharray="20 17 229.8 17" stroke-dashoffset="261.5"/>
<polygon points="901.4,2798.2 871.9,2849.3 980.1,2911.8 1009.6,2860.7" stroke-width="2" fill="#fff"/>
<ellipse cx="924.3" cy="2845.5" rx="11" ry="8.5" transform="rotate(-150 924.3 2845.5)" stroke-width="2" fill="none"/>
<polygon points="1446.1,2849.3 1416.6,2798.2 1308.4,2860.7 1337.9,2911.8" stroke-width="2" fill="#fff"/>
<ellipse cx="1393.7" cy="2845.5" rx="11" ry="8.5" transform="rotate(-30 1393.7 2845.5)" stroke-width="2" fill="none"/>
<polygon points="1129.5,3295.5 1188.5,3295.5 1188.5,3170.5 1129.5,3170.5" stroke-width="2" fill="#fff"/>
<ellipse cx="1159" cy="3252" rx="11" ry="8.5" transform="rotate(-270 1159 3252)" stroke-width="2" fill="none"/>
<circle cx="1159" cy="2981" r="54.3" stroke-width="3" fill="none"/>
<circle cx="1159" cy="2981" r="47" stroke-width="2" fill="none"/>
<circle cx="1206.2" cy="2981" r="6" stroke-width="2.5" fill="none"/>
<line x1="1202.2" y1="2977" x2="1210.2" y2="2985" stroke-width="1"/>
<line x1="1202.2" y1="2985" x2="1210.2" y2="2977" stroke-width="1"/>
<circle cx="1182.6" cy="2940.1" r="6" stroke-width="2.5" fill="none"/>
<line x1="1178.6" y1="2936.1" x2="1186.6" y2="2944.1" stroke-width="1"/>
<line x1="1178.6" y1="2944.1" x2="1186.6" y2="2936.1" stroke-width="1"/>
<line x1="1174" y1="2955" x2="1191" y2="2925.6" stroke-width="1.5"/>
<circle cx="1135.4" cy="2940.1" r="6" stroke-width="2.5" fill="none"/>
<line x1="1131.4" y1="2936.1" x2="1139.4" y2="2944.1" stroke-width="1"/>
<line x1="1131.4" y1="2944.1" x2="1139.4" y2="2936.1" stroke-width="1"/>
<line x1="1144" y1="2955" x2="1127" y2="2925.6" stroke-width="1.5"/>
<circle cx="1111.8" cy="2981" r="6" stroke-width="2.5" fill="none"/>
<line x1="1107.8" y1="2977" x2="1115.8" y2="2985" stroke-width="1"/>
<line x1="1107.8" y1="2985" x2="1115.8" y2="2977" stroke-width="1"/>
<circle cx="1135.4" cy="3021.9" r="6" stroke-width="2.5" fill="none"/>
<line x1="1131.4" y1="3017.9" x2="1139.4" y2="3025.9" stroke-width="1"/>
<line x1="1131.4" y1="3025.9" x2="1139.4" y2="3017.9" stroke-width="1"/>
<line x1="1144" y1="3007" x2="1127" y2="3036.4" stroke-width="1.5"/>
<circle cx="1182.6" cy="3021.9" r="6" stroke-width="2.5" fill="none"/>
<line x1="1178.6" y1="3017.9" x2="1186.6" y2="3025.9" stroke-width="1"/>
<line x1="1178.6" y1="3025.9" x2="1186.6" y2="3017.9" stroke-width="1"/>
<line x1="1174" y1="3007" x2="1191" y2="3036.4" stroke-width="1.5"/>
<circle cx="1159" cy="2981" r="12.5" stroke-width="2" fill="#000"/>
<circle cx="1159" cy="2981" r="7" stroke-width="1" fill="none" stroke="#fff"/>
<rect x="1153" y="2957" width="12" height="13" stroke-width="2" fill="#000"/>
<polyline points="1166,2964 1201,2947 1226,2947" stroke-width="4" fill="none"/>
<line x1="803" y1="2981" x2="904" y2="2981" stroke-width="2"/>
<line x1="921.5" y1="2981" x2="940" y2="2981" stroke-width="2"/>
<line x1="958" y1="2981" x2="964" y2="2981" stroke-width="2"/>
<line x1="1012" y1="2981" x2="1031" y2="2981" stroke-width="2"/>
<line x1="1048" y1="2981" x2="1057" y2="2981" stroke-width="2"/>
<line x1="1074" y1="2981" x2="1092" y2="2981" stroke-width="2"/>
<line x1="1094.6" y1="2981" x2="1223.4" y2="2981" stroke-width="2"/>
<line x1="1226.5" y1="2981" x2="1244" y2="2981" stroke-width="2"/>
<line x1="1261" y1="2981" x2="1361" y2="2981" stroke-width="2"/>
<line x1="1378" y1="2981" x2="1396.6" y2="2981" stroke-width="2"/>
<line x1="1414.3" y1="2981" x2="1515" y2="2981" stroke-width="2"/>
<line x1="1159" y1="2639.4" x2="1159" y2="2767.4" stroke-width="2"/>
<line x1="1159" y1="2842.4" x2="1159" y2="2849" stroke-width="2"/>
<line x1="1159" y1="2908" x2="1159" y2="2912" stroke-width="2"/>
<line x1="1159" y1="2922.6" x2="1159" y2="3035" stroke-width="2"/>
<line x1="1159" y1="3039.4" x2="1159" y2="3056.2" stroke-width="2"/>
<line x1="1159" y1="3074.3" x2="1159" y2="3167.4" stroke-width="2"/>
<line x1="1159" y1="3185.5" x2="1159" y2="3202.3" stroke-width="2"/>
<line x1="1159" y1="3220.4" x2="1159" y2="3431.2" stroke-width="2"/>
<rect x="1157" y="2673" width="4" height="92" stroke-width="1.5" fill="#000"/>
<line x1="1159" y1="2731" x2="1159" y2="2754" stroke="#fff" stroke-width="1"/>
<line x1="1148.6" y1="2975" x2="743.3" y2="2741" stroke-width="2"/>
<line x1="1574.7" y1="2741" x2="1288" y2="2906.5" stroke-width="2"/>
<line x1="1271.2" y1="2916.2" x2="1254.8" y2="2925.7" stroke-width="2"/>
<line x1="1238.8" y1="2934.9" x2="1170" y2="2974.7" stroke-width="2"/>
<line x1="924.2" y1="2851.8" x2="1030.7" y2="2913.3" stroke-width="1.5"/>
<line x1="929.7" y1="2842.2" x2="1036.2" y2="2903.7" stroke-width="1.5"/>
<polygon points="1436,2812 1447,2806 1452,2815 1441,2821" stroke-width="2" fill="none"/>
<polygon points="1447,2806 1455,2803 1459,2811 1452,2815" stroke-width="2" fill="#000"/>
<line x1="1083.2" y1="2698" x2="1054.2" y2="2589.8" stroke-width="1.5"/>
<line x1="1234.8" y1="2698" x2="1263.8" y2="2589.8" stroke-width="1.5"/>
<path d="M1565.2,2746.5 L1556.7,2732.5 L1547.8,2718.7 L1538.4,2705.3 L1528.6,2692.3 L1518.3,2679.5 L1507.5,2667.2 L1496.4,2655.2 L1484.8,2643.6 L1472.8,2632.5 L1460.5,2621.7 L1447.7,2611.4 L1434.7,2601.6 L1421.3,2592.2 L1407.5,2583.3 L1393.5,2574.8 L1379.2,2566.9 L1364.6,2559.5 L1349.8,2552.5 L1334.7,2546.2 L1319.4,2540.3 L1303.9,2535 L1288.3,2530.2 L1272.5,2525.9 L1256.5,2522.2 L1240.4,2519.1 L1224.3,2516.6 L1208,2514.6 L1191.7,2513.1 L1175.4,2512.3 L1159,2512 L1142.6,2512.3 L1126.3,2513.1 L1110,2514.6 L1093.7,2516.6 L1077.6,2519.1 L1061.5,2522.2 L1045.5,2525.9 L1029.7,2530.2 L1014.1,2535 L998.6,2540.3 L983.3,2546.2 L968.2,2552.5 L953.4,2559.5 L938.8,2566.9 L924.5,2574.8 L910.5,2583.3 L896.7,2592.2 L883.3,2601.6 L870.3,2611.4 L857.5,2621.7 L845.2,2632.5 L833.2,2643.6 L821.6,2655.2 L810.5,2667.2 L799.7,2679.5 L789.4,2692.3 L779.6,2705.3 L770.2,2718.7 L761.3,2732.5 L752.8,2746.5" stroke-width="2" fill="none"/>
<polygon points="752.8,2746.5 770.3,2702.3 774.7,2708.6 782.4,2709.3" fill="#000" stroke="none"/>
<polygon points="1565.2,2746.5 1535.6,2709.3 1543.3,2708.6 1547.7,2702.3" fill="#000" stroke="none"/>
<path d="M1259.2,2607.2 L1255.9,2606.3 L1252.6,2605.5 L1249.3,2604.7 L1246.1,2603.9 L1242.8,2603.2 L1239.5,2602.5 L1236.2,2601.8 L1232.8,2601.1 L1229.5,2600.5 L1226.2,2599.9 L1222.9,2599.3 L1219.5,2598.8 L1216.2,2598.3 L1212.9,2597.8 L1209.5,2597.3 L1206.2,2596.9 L1202.8,2596.5 L1199.5,2596.1 L1196.1,2595.8 L1192.7,2595.5 L1189.4,2595.2 L1186,2594.9 L1182.6,2594.7 L1179.3,2594.5 L1175.9,2594.4 L1172.5,2594.2 L1169.1,2594.1 L1165.8,2594.1 L1162.4,2594 L1159,2594 L1155.6,2594 L1152.2,2594.1 L1148.9,2594.1 L1145.5,2594.2 L1142.1,2594.4 L1138.7,2594.5 L1135.4,2594.7 L1132,2594.9 L1128.6,2595.2 L1125.3,2595.5 L1121.9,2595.8 L1118.5,2596.1 L1115.2,2596.5 L1111.8,2596.9 L1108.5,2597.3 L1105.1,2597.8 L1101.8,2598.3 L1098.5,2598.8 L1095.1,2599.3 L1091.8,2599.9 L1088.5,2600.5 L1085.2,2601.1 L1081.8,2601.8 L1078.5,2602.5 L1075.2,2603.2 L1071.9,2603.9 L1068.7,2604.7 L1065.4,2605.5 L1062.1,2606.3 L1058.8,2607.2" stroke-width="2" fill="none"/>
<polygon points="1058.8,2607.2 1102.4,2588.3 1101.1,2595.9 1106,2601.8" fill="#000" stroke="none"/>
<polygon points="1259.2,2607.2 1212,2601.8 1216.9,2595.9 1215.6,2588.3" fill="#000" stroke="none"/>
<path d="M777.5,2760.8 L770.1,2774.2 L763.1,2787.9 L756.6,2801.8 L750.6,2816 L745.1,2830.3 L740.1,2844.9 L735.6,2859.6 L731.6,2874.4 L728.1,2889.4 L725.2,2904.5 L722.8,2919.7 L720.9,2935 L719.6,2950.3 L718.8,2965.6 L718.5,2981 L718.8,2996.4 L719.6,3011.7 L720.9,3027 L722.8,3042.3 L725.2,3057.5 L728.1,3072.6 L731.6,3087.6 L735.6,3102.4 L740.1,3117.1 L745.1,3131.7 L750.6,3146 L756.6,3160.2 L763.1,3174.1 L770.1,3187.8 L777.5,3201.2 L785.4,3214.4 L793.8,3227.3 L802.6,3239.9 L811.9,3252.2 L821.6,3264.1 L831.6,3275.8 L842.1,3287 L853,3297.9 L864.2,3308.4 L875.9,3318.4 L887.8,3328.1 L900.1,3337.4 L912.7,3346.2 L925.6,3354.6 L938.7,3362.5 L952.2,3369.9 L965.9,3376.9 L979.8,3383.4 L994,3389.4 L1008.3,3394.9 L1022.9,3399.9 L1037.6,3404.4 L1052.4,3408.4 L1067.4,3411.9 L1082.5,3414.8 L1097.7,3417.2 L1113,3419.1 L1128.3,3420.4 L1143.6,3421.2 L1159,3421.5" stroke-width="2" fill="none"/>
<polygon points="777.5,2760.8 760.1,2805 755.7,2798.6 748,2798" fill="#000" stroke="none"/>
<polygon points="1159,3421.5 1112,3428.5 1115.3,3421.5 1112,3414.5" fill="#000" stroke="none"/>
<rect x="804" y="2953" width="18" height="56" stroke-width="2" fill="none"/>
<rect x="822" y="2948" width="19" height="66" stroke-width="2" fill="none"/>
<rect x="1478" y="2953" width="19" height="56" stroke-width="2" fill="none"/>
<rect x="1497" y="2959" width="16" height="45" stroke-width="2" fill="none"/>
<polygon points="1027,2639 1103.9,2619.6 1107.3,2641.2 1031.7,2658.8" stroke-width="2" fill="none"/>
<line x1="1027" y1="2639" x2="1103.9" y2="2619.6" stroke-width="4"/>
<polygon points="1060.7,2654 1083.5,2649 1087.4,2668 1063.9,2672.9" stroke-width="2" fill="none"/>
<path d="M1122.7,2662.7 L1122.7,2653 Q1123,2650 1128,2650 L1189,2650 Q1194,2650 1194,2653 L1194,2662.7" stroke-width="2" fill="none"/>
<line x1="1128" y1="2651" x2="1189" y2="2651" stroke-width="4"/>
<path d="M1227.7,2668 L1237,2632 Q1241,2621 1250,2622 Q1258,2625 1257,2640 L1254,2676" stroke-width="2" fill="none"/>
<line x1="1100.7" y1="2619" x2="1682" y2="2619" stroke-width="2"/>
<line x1="1133" y1="3299.7" x2="1682" y2="3299.7" stroke-width="2"/>
<line x1="1670" y1="2619" x2="1670" y2="3300" stroke-width="2"/>
<polygon points="1670,2620 1677,2667 1670,2663.7 1663,2667" fill="#000" stroke="none"/>
<polygon points="1670,3299 1663,3252 1670,3255.3 1677,3252" fill="#000" stroke="none"/>
<polyline points="563.5,3381 727.4,3381 1362,2794" stroke-width="2" fill="none"/>
<polygon points="958.5,3164.8 988.4,3127.9 990.7,3135.3 997.9,3138.2" fill="#000" stroke="none"/>
<polygon points="1359.5,2797 1329.6,2833.9 1327.3,2826.6 1320.1,2823.6" fill="#000" stroke="none"/>
<polyline points="587,3248.5 727.4,3248.5 777,3201" stroke-width="2" fill="none"/>
<polyline points="1301.8,2848.8 1110.8,2848.8 1071,2913" stroke-width="2" fill="none"/>
<line x1="1097" y1="2876" x2="1026" y2="2995" stroke-width="1.5"/>
<polygon points="1071,2913 1092.3,2870.5 1096.1,2877.2 1103.7,2878.6" fill="#000" stroke="none"/>
<polygon points="1058,2941 1039.9,2984.9 1035.6,2978.5 1027.9,2977.8" fill="#000" stroke="none"/>
<line x1="801" y1="2895" x2="1009" y2="3013" stroke-width="1.5"/>
<polygon points="863.6,2929 819.4,2911.6 825.7,2907.1 826.4,2899.4" fill="#000" stroke="none"/>
<polygon points="882,2941 926.2,2958.4 919.9,2962.9 919.2,2970.6" fill="#000" stroke="none"/>
<line x1="856" y1="2941" x2="901" y2="2861" stroke-width="1.5"/>
<line x1="878" y1="2958" x2="922" y2="2876" stroke-width="1.5"/>
</g>
<text class="t" transform="translate(1112 2494) skewX(-11) scale(0.566 1)" x="0" y="0" font-size="68.3" stroke-width="0.8" textLength="166.2" lengthAdjust="spacing">120°</text>
<text class="t" transform="translate(1115.5 2572) skewX(-11) scale(0.683 1)" x="0" y="0" font-size="68.3" stroke-width="0.8" textLength="117" lengthAdjust="spacing">30°</text>
<text class="t" transform="translate(1134 2829) skewX(-11) scale(0.544 1)" x="0" y="0" font-size="68.3" stroke-width="0.8" textLength="84.6" lengthAdjust="spacing">19</text>
<text class="t" transform="translate(1124.7 2895.5) skewX(-11) scale(0.687 1)" x="0" y="0" font-size="65.4" stroke-width="0.8" textLength="224.3" lengthAdjust="spacing">3 паза</text>
<text class="t" transform="translate(611 3230.6) skewX(-11) scale(0.573 1)" x="0" y="0" font-size="68.3" stroke-width="0.8" textLength="165.9" lengthAdjust="spacing">120°</text>
<text class="t" transform="translate(584 3360.4) skewX(-11) scale(0.693 1)" x="0" y="0" font-size="68.3" stroke-width="0.8" textLength="176" lengthAdjust="spacing">ø690</text>
<text class="t" transform="translate(1657 3003) rotate(-90) skewX(-11) scale(0.725 1)" x="0" y="0" font-size="68.3" stroke-width="0.8" textLength="126.9" lengthAdjust="spacing">865</text>
<text class="t" transform="translate(946.6 2955) rotate(29) skewX(-7)" x="0" y="0" font-size="64" stroke-width="1" textLength="66" lengthAdjust="spacingAndGlyphs">28</text>
<g stroke="#000" fill="none">
<line x1="2809" y1="113.5" x2="4828" y2="113.5" stroke-width="2"/>
<line x1="2809" y1="196.2" x2="4828" y2="196.2" stroke-width="2"/>
<line x1="2809" y1="278.8" x2="4828" y2="278.8" stroke-width="2"/>
<line x1="2809" y1="361.5" x2="4828" y2="361.5" stroke-width="2"/>
<line x1="2809" y1="444.1" x2="4828" y2="444.1" stroke-width="2"/>
<line x1="2809" y1="526.8" x2="4828" y2="526.8" stroke-width="2"/>
<line x1="2809" y1="609.4" x2="4828" y2="609.4" stroke-width="2"/>
<line x1="2809" y1="692.1" x2="4828" y2="692.1" stroke-width="2"/>
<line x1="3753" y1="774.7" x2="4828" y2="774.7" stroke-width="2"/>
<line x1="3753" y1="857.4" x2="4828" y2="857.4" stroke-width="2"/>
<line x1="2809" y1="940" x2="4828" y2="940" stroke-width="2"/>
<line x1="2809" y1="1022.7" x2="4828" y2="1022.7" stroke-width="2"/>
<line x1="2809" y1="1105.3" x2="4828" y2="1105.3" stroke-width="2"/>
<line x1="2809" y1="1188" x2="4828" y2="1188" stroke-width="2"/>
<line x1="2809" y1="1270.6" x2="4828" y2="1270.6" stroke-width="2"/>
<line x1="2809" y1="1353.2" x2="4828" y2="1353.2" stroke-width="2"/>
<line x1="2809" y1="1435.9" x2="4828" y2="1435.9" stroke-width="2"/>
<line x1="2809" y1="1518.6" x2="4828" y2="1518.6" stroke-width="2"/>
<line x1="2809" y1="113.5" x2="2809" y2="1518.6" stroke-width="2"/>
<line x1="3753" y1="113.5" x2="3753" y2="1518.6" stroke-width="2"/>
<line x1="4828" y1="113.5" x2="4828" y2="1518.6" stroke-width="2"/>
<line x1="4291" y1="692.1" x2="4291" y2="940" stroke-width="2"/>
</g>
<text class="t" transform="translate(2818 177.2) skewX(-11) scale(0.579 1)" x="0" y="0" font-size="60.3" stroke-width="0.7" textLength="969.2" lengthAdjust="spacing">Наименование показателей</text>
<text class="t" transform="translate(3765 177.2) skewX(-11) scale(0.596 1)" x="0" y="0" font-size="60.3" stroke-width="0.7" textLength="312.2" lengthAdjust="spacing">Значения</text>
<text class="t" transform="translate(2818 259.8) skewX(-11) scale(0.578 1)" x="0" y="0" font-size="60.3" stroke-width="0.7" textLength="824.8" lengthAdjust="spacing">Давление рабочее, МПа</text>
<text class="t" transform="translate(3765 259.8) skewX(-11) scale(0.545 1)" x="0" y="0" font-size="60.3" stroke-width="0.7" textLength="99.1" lengthAdjust="spacing">1,0</text>
<text class="t" transform="translate(2818 342.5) skewX(-11) scale(0.579 1)" x="0" y="0" font-size="60.3" stroke-width="0.7" textLength="918.6" lengthAdjust="spacing">Давление расчетное, МПа</text>
<text class="t" transform="translate(3765 342.5) skewX(-11) scale(0.545 1)" x="0" y="0" font-size="60.3" stroke-width="0.7" textLength="99.1" lengthAdjust="spacing">1,0</text>
<text class="t" transform="translate(2825 425.1) skewX(-11) scale(0.570 1)" x="0" y="0" font-size="60.3" stroke-width="0.7" textLength="895.9" lengthAdjust="spacing">Температура рабочая, °С</text>
<text class="t" transform="translate(3765 425.1) skewX(-11) scale(0.609 1)" x="0" y="0" font-size="60.3" stroke-width="0.7" textLength="863.1" lengthAdjust="spacing">от минус 20 до плюс 100</text>
<text class="t" transform="translate(2825 507.8) skewX(-11) scale(0.571 1)" x="0" y="0" font-size="60.3" stroke-width="0.7" textLength="990.5" lengthAdjust="spacing">Температура расчётная, °С</text>
<text class="t" transform="translate(3765 507.8) skewX(-11) scale(0.633 1)" x="0" y="0" font-size="60.3" stroke-width="0.7" textLength="113.7" lengthAdjust="spacing">100</text>
<text class="t" transform="translate(2818 590.4) skewX(-11) scale(0.590 1)" x="0" y="0" font-size="60.3" stroke-width="0.7" textLength="1060.5" lengthAdjust="spacing">Наименование рабочей среды*</text>
<text class="t" transform="translate(2818 673.1) skewX(-11) scale(0.594 1)" x="0" y="0" font-size="60.3" stroke-width="0.7" textLength="762.5" lengthAdjust="spacing">Группа рабочей среды</text>
<text class="t" transform="translate(3765 673.1) skewX(-11) scale(0.835 1)" x="0" y="0" font-size="60.3" stroke-width="0.7" textLength="33.5" lengthAdjust="spacing">2</text>
<text class="t" transform="translate(3765 755.7) skewX(-11) scale(0.596 1)" x="0" y="0" font-size="60.3" stroke-width="0.7" textLength="588.8" lengthAdjust="spacing">Класс опасности</text>
<text class="t" transform="translate(3765 838.4) skewX(-11) scale(0.568 1)" x="0" y="0" font-size="60.3" stroke-width="0.7" textLength="621.5" lengthAdjust="spacing">Взрывоопасность</text>
<text class="t" transform="translate(3765 921) skewX(-11) scale(0.569 1)" x="0" y="0" font-size="60.3" stroke-width="0.7" textLength="629.5" lengthAdjust="spacing">Пожароопасность</text>
<text class="t" transform="translate(2818 1003.7) skewX(-11) scale(0.611 1)" x="0" y="0" font-size="60.3" stroke-width="0.7" textLength="1204.4" lengthAdjust="spacing">Группа сосуда по ГОСТ 34347-2017</text>
<text class="t" transform="translate(3765 1003.7) skewX(-11) scale(0.626 1)" x="0" y="0" font-size="60.3" stroke-width="0.7" textLength="33.5" lengthAdjust="spacing">4</text>
<text class="t" transform="translate(2818 1086.3) skewX(-11) scale(0.569 1)" x="0" y="0" font-size="60.3" stroke-width="0.7" textLength="585.1" lengthAdjust="spacing">Вместимость, м</text>
<text class="t" transform="translate(3765 1086.3) skewX(-11) scale(0.640 1)" x="0" y="0" font-size="60.3" stroke-width="0.7" textLength="96.8" lengthAdjust="spacing">0,9</text>
<text class="t" transform="translate(2818 1169) skewX(-11) scale(0.585 1)" x="0" y="0" font-size="60.3" stroke-width="0.7" textLength="1561.1" lengthAdjust="spacing">Расчётный и назначенный срок службы, лет</text>
<text class="t" transform="translate(3765 1169) skewX(-11) scale(0.609 1)" x="0" y="0" font-size="60.3" stroke-width="0.7" textLength="73.9" lengthAdjust="spacing">10</text>
<text class="t" transform="translate(2818 1251.6) skewX(-11) scale(0.575 1)" x="0" y="0" font-size="60.3" stroke-width="0.7" textLength="1376" lengthAdjust="spacing">Минимальная температура стенки, °С</text>
<text class="t" transform="translate(3765 1251.6) skewX(-11) scale(0.632 1)" x="0" y="0" font-size="60.3" stroke-width="0.7" textLength="298.2" lengthAdjust="spacing">минус 20</text>
<text class="t" transform="translate(2818 1334.2) skewX(-11) scale(0.570 1)" x="0" y="0" font-size="60.3" stroke-width="0.7" textLength="701.4" lengthAdjust="spacing">Основной материал</text>
<text class="t" transform="translate(3765 1334.2) skewX(-11) scale(0.566 1)" x="0" y="0" font-size="60.3" stroke-width="0.7" textLength="166.1" lengthAdjust="spacing">Ст 3</text>
<text class="t" transform="translate(2818 1416.9) skewX(-11) scale(0.565 1)" x="0" y="0" font-size="60.3" stroke-width="0.7" textLength="352.4" lengthAdjust="spacing">Покрытие</text>
<text class="t" transform="translate(3765 1416.9) skewX(-11) scale(0.597 1)" x="0" y="0" font-size="60.3" stroke-width="0.7" textLength="688.6" lengthAdjust="spacing">Горячее цинкование</text>
<text class="t" transform="translate(2818 1499.6) skewX(-11) scale(0.590 1)" x="0" y="0" font-size="60.3" stroke-width="0.7" textLength="791.4" lengthAdjust="spacing">Окраска поверхностей</text>
<text class="t" transform="translate(3765 1499.6) skewX(-11) scale(0.590 1)" x="0" y="0" font-size="60.3" stroke-width="0.7" textLength="1144.5" lengthAdjust="spacing">Краска порошковая серебристая</text>
<text class="t" transform="translate(2818 838) skewX(-11) scale(0.588 1)" x="0" y="0" font-size="60.3" stroke-width="0.7" textLength="1125.3" lengthAdjust="spacing">Характеристика рабочей среды</text>
<text class="t" transform="translate(3166 1058.5) skewX(-11) scale(0.750 1)" x="0" y="0" font-size="31.3" stroke-width="0.6" style="stroke:none">3</text>
<text class="t" transform="translate(4555 755.7) skewX(-11) scale(0.715 1)" x="0" y="0" font-size="60.3" stroke-width="0.7" textLength="33.5" lengthAdjust="spacing" text-anchor="middle">4</text>
<text class="t" transform="translate(4556 838.4) skewX(-11) scale(0.599 1)" x="0" y="0" font-size="60.3" stroke-width="0.7" textLength="130.2" lengthAdjust="spacing" text-anchor="middle">нет</text>
<text class="t" transform="translate(4556 921) skewX(-11) scale(0.599 1)" x="0" y="0" font-size="60.3" stroke-width="0.7" textLength="130.2" lengthAdjust="spacing" text-anchor="middle">нет</text>
<text class="t" transform="translate(2849.5 1587.7) skewX(-11) scale(0.592 1)" x="0" y="0" font-size="60.3" stroke-width="0.7" textLength="1229.8" lengthAdjust="spacing">*Графу заполняет владелец сосуда</text>
<g stroke="#000" fill="none">
<line x1="2851" y1="1688" x2="4480" y2="1688" stroke-width="2"/>
<line x1="2851" y1="1770" x2="4480" y2="1770" stroke-width="2"/>
<line x1="2851" y1="1852.5" x2="4480" y2="1852.5" stroke-width="2"/>
<line x1="2851" y1="2017.5" x2="4480" y2="2017.5" stroke-width="2"/>
<line x1="2851" y1="2183.5" x2="4480" y2="2183.5" stroke-width="2"/>
<line x1="2851" y1="2266.7" x2="4480" y2="2266.7" stroke-width="2"/>
<line x1="2851" y1="2348.5" x2="4480" y2="2348.5" stroke-width="2"/>
<line x1="2851" y1="2431.5" x2="4480" y2="2431.5" stroke-width="2"/>
<line x1="2851" y1="1688" x2="2851" y2="2431.5" stroke-width="2"/>
<line x1="4480" y1="1688" x2="4480" y2="2431.5" stroke-width="2"/>
<line x1="4067" y1="1770" x2="4067" y2="2431.5" stroke-width="2"/>
</g>
<text class="t" transform="translate(3515.5 1750) skewX(-11) scale(0.574 1)" x="0" y="0" font-size="60.3" stroke-width="0.7" textLength="534" lengthAdjust="spacing">*Комплектация</text>
<text class="t" transform="translate(3314 1833) skewX(-11) scale(0.564 1)" x="0" y="0" font-size="60.3" stroke-width="0.7" textLength="497.2" lengthAdjust="spacing">Наименование</text>
<text class="t" transform="translate(4148 1834.7) skewX(-11) scale(0.602 1)" x="0" y="0" font-size="60.3" stroke-width="0.7" textLength="405.6" lengthAdjust="spacing">Количество</text>
<text class="t" transform="translate(2859 1957.6) skewX(-11) scale(0.573 1)" x="0" y="0" font-size="60.3" stroke-width="0.7" textLength="1488.7" lengthAdjust="spacing">Клапан предохранительный 1,1МПа, G1/2"</text>
<text class="t" transform="translate(4276 1957.6) skewX(-11) scale(0.750 1)" x="0" y="0" font-size="60.3" stroke-width="0.7" text-anchor="middle">1</text>
<text class="t" transform="translate(2859 2123) skewX(-11) scale(0.593 1)" x="0" y="0" font-size="60.3" stroke-width="0.7" textLength="1539.4" lengthAdjust="spacing">Кран шаровый PN30; G1/2; (муфта-штуцер)</text>
<text class="t" transform="translate(4276 2123) skewX(-11) scale(0.750 1)" x="0" y="0" font-size="60.3" stroke-width="0.7" text-anchor="middle">1</text>
<text class="t" transform="translate(2859 2247.5) skewX(-11) scale(0.568 1)" x="0" y="0" font-size="60.3" stroke-width="0.7" textLength="1341.6" lengthAdjust="spacing">Манометр МП-100Т (0...1,6) МПа G1/2</text>
<text class="t" transform="translate(4276 2247.5) skewX(-11) scale(0.750 1)" x="0" y="0" font-size="60.3" stroke-width="0.7" text-anchor="middle">1</text>
<text class="t" transform="translate(2859 2331) skewX(-11) scale(0.578 1)" x="0" y="0" font-size="60.3" stroke-width="0.7" textLength="1402.1" lengthAdjust="spacing">Паспорт на предохранительный клапан</text>
<text class="t" transform="translate(4276 2331) skewX(-11) scale(0.750 1)" x="0" y="0" font-size="60.3" stroke-width="0.7" text-anchor="middle">1</text>
<text class="t" transform="translate(2859 2412.6) skewX(-11) scale(0.580 1)" x="0" y="0" font-size="60.3" stroke-width="0.7" textLength="1633.9" lengthAdjust="spacing">Паспорт сосуда, работающего под давлением</text>
<text class="t" transform="translate(4276 2412.6) skewX(-11) scale(0.750 1)" x="0" y="0" font-size="60.3" stroke-width="0.7" text-anchor="middle">1</text>
<g stroke="#000" fill="none">
<line x1="2718" y1="2800" x2="3484.7" y2="2800" stroke-width="2"/>
<line x1="2718" y1="2858.5" x2="3484.7" y2="2858.5" stroke-width="2"/>
<line x1="2718" y1="2917.4" x2="3484.7" y2="2917.4" stroke-width="2"/>
<line x1="2718" y1="2976.7" x2="3484.7" y2="2976.7" stroke-width="2"/>
<line x1="2718" y1="3035.5" x2="3484.7" y2="3035.5" stroke-width="2"/>
<line x1="2718" y1="3095.7" x2="3484.7" y2="3095.7" stroke-width="2"/>
<line x1="2718" y1="3154.6" x2="3484.7" y2="3154.6" stroke-width="2"/>
<line x1="2718" y1="3213.4" x2="3484.7" y2="3213.4" stroke-width="2"/>
<line x1="2718" y1="3272.3" x2="3484.7" y2="3272.3" stroke-width="2"/>
<line x1="2718" y1="3331" x2="3484.7" y2="3331" stroke-width="2"/>
<line x1="2718" y1="3390.4" x2="3484.7" y2="3390.4" stroke-width="2"/>
<line x1="3484.7" y1="2976.7" x2="4903" y2="2976.7" stroke-width="2"/>
<line x1="3484.7" y1="3272.3" x2="4903" y2="3272.3" stroke-width="2"/>
<line x1="3484.7" y1="2800" x2="4903" y2="2800" stroke-width="2"/>
<line x1="2718" y1="2800" x2="2718" y2="3449" stroke-width="2"/>
<line x1="2800" y1="2800" x2="2800" y2="3095.7" stroke-width="2"/>
<line x1="2917.7" y1="2800" x2="2917.7" y2="3449" stroke-width="2"/>
<line x1="3189.6" y1="2800" x2="3189.6" y2="3449" stroke-width="2"/>
<line x1="3366.6" y1="2800" x2="3366.6" y2="3449" stroke-width="2"/>
<line x1="3484.7" y1="2800" x2="3484.7" y2="3449" stroke-width="2"/>
<line x1="4312" y1="2976.7" x2="4312" y2="3449" stroke-width="2"/>
<line x1="4312" y1="3035.7" x2="4903" y2="3035.7" stroke-width="2"/>
<line x1="4312" y1="3213.8" x2="4903" y2="3213.8" stroke-width="2"/>
<line x1="4370.5" y1="3035.7" x2="4370.5" y2="3213.8" stroke-width="2"/>
<line x1="4430" y1="3035.7" x2="4430" y2="3213.8" stroke-width="2"/>
<line x1="4488.6" y1="2976.7" x2="4488.6" y2="3213.8" stroke-width="2"/>
<line x1="4689.7" y1="2976.7" x2="4689.7" y2="3213.8" stroke-width="2"/>
<line x1="4554.5" y1="3213.8" x2="4554.5" y2="3272.3" stroke-width="2"/>
</g>
<text class="t" transform="translate(2727 3086) skewX(-11) scale(0.450 1)" x="0" y="0" font-size="59.6" stroke-width="0.7" textLength="148.9" lengthAdjust="spacing">Изм.</text>
<text class="t" transform="translate(2810 3086) skewX(-11) scale(0.513 1)" x="0" y="0" font-size="59.6" stroke-width="0.7" textLength="177.4" lengthAdjust="spacing">Лист</text>
<text class="t" transform="translate(2965 3086) skewX(-11) scale(0.576 1)" x="0" y="0" font-size="59.6" stroke-width="0.7" textLength="312.3" lengthAdjust="spacing">№ докум.</text>
<text class="t" transform="translate(3229.7 3086) skewX(-11) scale(0.515 1)" x="0" y="0" font-size="59.6" stroke-width="0.7" textLength="190.5" lengthAdjust="spacing">Подп.</text>
<text class="t" transform="translate(3375.7 3086) skewX(-11) scale(0.515 1)" x="0" y="0" font-size="59.6" stroke-width="0.7" textLength="181.1" lengthAdjust="spacing">Дата</text>
<text class="t" transform="translate(2727 3145) skewX(-11) scale(0.568 1)" x="0" y="0" font-size="59.6" stroke-width="0.7" textLength="259" lengthAdjust="spacing">Разраб.</text>
<text class="t" transform="translate(2727 3203) skewX(-11) scale(0.526 1)" x="0" y="0" font-size="59.6" stroke-width="0.7" textLength="188.3" lengthAdjust="spacing">Пров.</text>
<text class="t" transform="translate(2734.7 3262.7) skewX(-11) scale(0.521 1)" x="0" y="0" font-size="59.6" stroke-width="0.7" textLength="295.5" lengthAdjust="spacing">Т.контр.</text>
<text class="t" transform="translate(2727 3381) skewX(-11) scale(0.528 1)" x="0" y="0" font-size="59.6" stroke-width="0.7" textLength="306.7" lengthAdjust="spacing">Н.контр.</text>
<text class="t" transform="translate(2729 3439.7) skewX(-11) scale(0.522 1)" x="0" y="0" font-size="59.6" stroke-width="0.7" textLength="159" lengthAdjust="spacing">Утв.</text>
<text class="t" transform="translate(3948 2930) skewX(-11) scale(0.652 1)" x="0" y="0" font-size="122.1" stroke-width="4.5" textLength="728.1" lengthAdjust="spacing">PB900/10Ц</text>
<text class="t" transform="translate(3651 3184) skewX(-11) scale(0.615 1)" x="0" y="0" font-size="170.1" stroke-width="2.1" textLength="772" lengthAdjust="spacing">Ресивер</text>
<text class="t" transform="translate(4358.7 3028.5) skewX(-11) scale(0.543 1)" x="0" y="0" font-size="59.6" stroke-width="0.7" textLength="162.2" lengthAdjust="spacing">Лит.</text>
<text class="t" transform="translate(4523.5 3028.5) skewX(-11) scale(0.605 1)" x="0" y="0" font-size="59.6" stroke-width="0.7" textLength="203.3" lengthAdjust="spacing">Масса</text>
<text class="t" transform="translate(4698 3028.5) skewX(-11) scale(0.580 1)" x="0" y="0" font-size="59.6" stroke-width="0.7" textLength="320.8" lengthAdjust="spacing">Масштаб</text>
<text class="t" transform="translate(4385 3154.5) skewX(-11) scale(0.462 1)" x="0" y="0" font-size="84.3" stroke-width="1" textLength="56.2" lengthAdjust="spacing">А</text>
<text class="t" transform="translate(4526 3154.5) skewX(-11) scale(0.749 1)" x="0" y="0" font-size="87.2" stroke-width="1.1" textLength="161.5" lengthAdjust="spacing">240</text>
<text class="t" transform="translate(4754 3154.5) skewX(-11) scale(0.465 1)" x="0" y="0" font-size="87.2" stroke-width="1.1" textLength="208.4" lengthAdjust="spacing">1:15</text>
<text class="t" transform="translate(4333.6 3264.6) skewX(-11) scale(0.604 1)" x="0" y="0" font-size="59.6" stroke-width="0.7" textLength="173.8" lengthAdjust="spacing">Лист</text>
<text class="t" transform="translate(4581 3264.6) skewX(-11) scale(0.613 1)" x="0" y="0" font-size="59.6" stroke-width="0.7" textLength="250.5" lengthAdjust="spacing">Листов</text>
<text class="t" transform="translate(4828 3264.6) skewX(-11) scale(0.604 1)" x="0" y="0" font-size="59.6" stroke-width="0.7" textLength="33.1" lengthAdjust="spacing">1</text>
<text class="t" transform="translate(4323.7 3350) skewX(-11) scale(0.540 1)" x="0" y="0" font-size="85.8" stroke-width="1.1" textLength="1001.7" lengthAdjust="spacing">АО "Бежецкий завод</text>
<text class="t" transform="translate(4544.6 3429.4) skewX(-11) scale(0.499 1)" x="0" y="0" font-size="85.8" stroke-width="1.1" textLength="288.3" lengthAdjust="spacing">"АСО"</text>
<text class="t" transform="translate(3611.6 3498.7) skewX(-11) scale(0.568 1)" x="0" y="0" font-size="62.5" stroke-width="0.8" textLength="371.3" lengthAdjust="spacing">Копировал</text>
<text class="t" transform="translate(4445.7 3498.7) skewX(-11) scale(0.565 1)" x="0" y="0" font-size="62.5" stroke-width="0.8" textLength="286.2" lengthAdjust="spacing">Формат</text>
<text class="t" transform="translate(4676.5 3498.7) skewX(-11) scale(0.631 1)" x="0" y="0" font-size="62.5" stroke-width="0.8" textLength="83.3" lengthAdjust="spacing">А3</text>
<g transform="rotate(180 658 142.5)">
<text class="t" transform="translate(421 184.5) skewX(-11) scale(0.651 1)" x="0" y="0" font-size="122.1" stroke-width="4.5" textLength="728.3" lengthAdjust="spacing">PB900/10Ц</text>
</g>
</svg></body></html>
